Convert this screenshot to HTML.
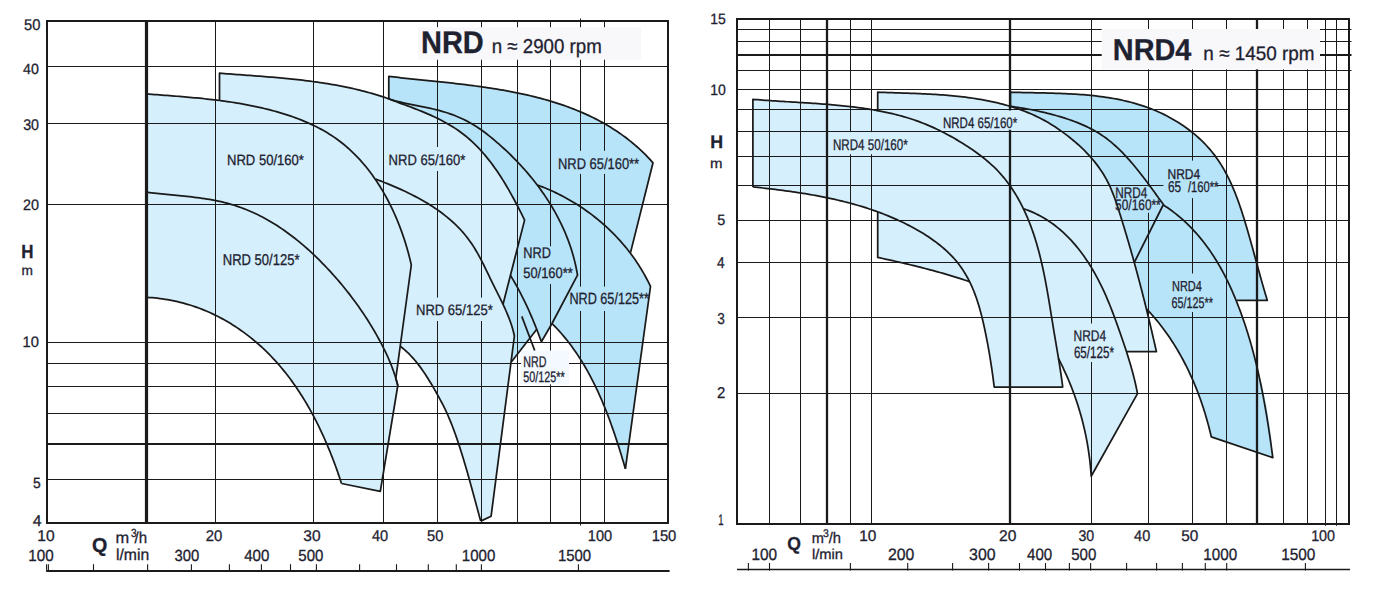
<!DOCTYPE html>
<html><head><meta charset="utf-8"><title>NRD pump curves</title>
<style>html,body{margin:0;padding:0;background:#fff;}svg{display:block;}text{font-family:"Liberation Sans",Arial,sans-serif;text-rendering:geometricPrecision;stroke:#1e2230;stroke-width:0.3px;}</style>
</head><body>
<svg width="1375" height="596" viewBox="0 0 1375 596">
<rect width="1375" height="596" fill="#fff"/>
<defs>
<clipPath id="cL"><path d="M147,94 C152.5,94.38 169.5,95.43 180,96.3 C190.5,97.17 205,98.72 210,99.2 L219.5,100.1 L219.5,73.2 L222.01,73.4 L224.53,73.59 L227.04,73.79 L229.56,73.98 L232.08,74.16 L234.59,74.35 L237.11,74.54 L239.63,74.72 L242.15,74.91 L244.67,75.09 L247.19,75.28 L249.71,75.47 L252.23,75.65 L254.75,75.84 L257.28,76.03 L259.8,76.23 L262.32,76.42 L264.84,76.62 L267.36,76.83 L269.88,77.03 L272.4,77.24 L274.92,77.46 L277.44,77.68 L279.96,77.91 L282.47,78.14 L284.99,78.37 L287.5,78.62 L290.02,78.87 L292.53,79.13 L295.04,79.39 L297.56,79.67 L300.07,79.95 L302.57,80.24 L305.08,80.54 L307.58,80.85 L310.09,81.17 L312.59,81.5 L315.09,81.84 L317.59,82.19 L320.08,82.55 L322.58,82.92 L325.07,83.31 L327.56,83.71 L330.04,84.12 L332.53,84.54 L335.01,84.98 L337.49,85.43 L339.96,85.9 L342.44,86.38 L344.91,86.87 L347.38,87.38 L349.84,87.91 L352.3,88.45 L354.76,89.01 L357.22,89.59 L359.67,90.19 L362.12,90.8 L364.56,91.43 L367,92.08 L369.44,92.74 L371.88,93.43 L374.31,94.13 L376.73,94.86 L379.15,95.61 L381.57,96.37 L383.99,97.16 L386.39,97.97 L388.8,98.8 L391.11,99.73 L393.44,100.64 L395.77,101.54 L398.12,102.43 L400.48,103.31 L402.84,104.18 L405.21,105.05 L407.58,105.92 L409.95,106.8 L412.33,107.69 L414.7,108.59 L417.07,109.5 L419.43,110.44 L421.79,111.39 L424.14,112.36 L426.49,113.35 L428.82,114.36 L431.14,115.4 L433.45,116.46 L435.75,117.54 L438.03,118.65 L440.29,119.79 L442.54,120.96 L444.76,122.16 L446.97,123.39 L449.15,124.65 L451.31,125.94 L453.44,127.27 L455.55,128.63 L457.63,130.03 L459.68,131.47 L461.69,132.95 L463.68,134.46 L465.64,136.02 L467.56,137.61 L469.45,139.24 L471.31,140.91 L473.14,142.61 L474.94,144.35 L476.72,146.12 L478.46,147.92 L480.18,149.75 L481.86,151.61 L483.53,153.5 L485.16,155.42 L486.77,157.36 L488.35,159.33 L489.91,161.32 L491.45,163.34 L492.96,165.37 L494.45,167.43 L495.92,169.51 L497.36,171.6 L498.78,173.72 L500.18,175.85 L501.56,177.99 L502.92,180.15 L504.26,182.32 L505.59,184.5 L506.89,186.69 L508.18,188.89 L509.44,191.11 L510.7,193.32 L511.93,195.55 L513.15,197.78 L514.36,200.01 L515.55,202.25 L516.72,204.48 L517.88,206.72 L519.03,208.96 L520.17,211.19 L521.29,213.43 L522.41,215.66 L523.51,217.88 L524.6,220.1 L503.1,304 C504.08,306.42 507.12,313.17 509,318.5 C510.88,323.83 513.5,333.08 514.4,336 L491.1,516.2 L480.7,521.1 L480.04,518.7 L479.38,516.29 L478.72,513.88 L478.07,511.47 L477.41,509.05 L476.76,506.64 L476.11,504.22 L475.45,501.8 L474.8,499.39 L474.15,496.97 L473.49,494.55 L472.83,492.12 L472.17,489.7 L471.51,487.28 L470.85,484.86 L470.18,482.44 L469.51,480.02 L468.83,477.61 L468.15,475.19 L467.46,472.78 L466.77,470.36 L466.07,467.95 L465.37,465.54 L464.66,463.14 L463.94,460.73 L463.22,458.33 L462.49,455.94 L461.74,453.54 L460.99,451.16 L460.24,448.77 L459.47,446.39 L458.69,444.01 L457.9,441.64 L457.1,439.27 L456.29,436.91 L455.46,434.56 L454.62,432.21 L453.76,429.87 L452.88,427.53 L451.99,425.21 L451.07,422.89 L450.13,420.58 L449.17,418.28 L448.19,416 L447.18,413.72 L446.14,411.45 L445.07,409.2 L443.98,406.95 L442.86,404.72 L441.71,402.5 L440.54,400.29 L439.35,398.08 L438.15,395.89 L436.92,393.7 L435.69,391.51 L434.44,389.33 L433.18,387.16 L431.9,384.99 L430.62,382.82 L429.31,380.67 L427.99,378.54 L426.65,376.42 L425.28,374.31 L423.89,372.23 L422.47,370.17 L421.02,368.13 L419.54,366.12 L418.02,364.14 L416.47,362.18 L414.88,360.27 L413.24,358.39 L411.57,356.54 L409.85,354.74 L408.08,352.98 L406.27,351.26 L404.4,349.59 L402.48,347.97 L400.5,346.4 L395.8,378.5 L397.8,385.5 L380.3,491.4 L341.5,483.5 L340.75,481.15 L339.99,478.81 L339.22,476.46 L338.43,474.11 L337.62,471.76 L336.8,469.41 L335.97,467.06 L335.12,464.71 L334.25,462.36 L333.37,460.01 L332.47,457.66 L331.56,455.31 L330.63,452.97 L329.68,450.63 L328.72,448.29 L327.75,445.96 L326.75,443.63 L325.74,441.31 L324.72,438.99 L323.68,436.67 L322.62,434.36 L321.54,432.06 L320.45,429.76 L319.35,427.47 L318.22,425.19 L317.08,422.91 L315.92,420.64 L314.75,418.39 L313.56,416.13 L312.35,413.89 L311.12,411.66 L309.88,409.44 L308.62,407.23 L307.34,405.03 L306.04,402.84 L304.73,400.66 L303.4,398.49 L302.05,396.34 L300.68,394.2 L299.3,392.07 L297.9,389.96 L296.48,387.86 L295.04,385.77 L293.59,383.7 L292.11,381.65 L290.62,379.61 L289.11,377.58 L287.58,375.57 L286.03,373.58 L284.46,371.61 L282.88,369.65 L281.28,367.71 L279.65,365.79 L278.01,363.89 L276.35,362.01 L274.67,360.15 L272.97,358.3 L271.25,356.48 L269.52,354.68 L267.76,352.9 L265.98,351.14 L264.19,349.41 L262.37,347.69 L260.54,346 L258.68,344.33 L256.81,342.69 L254.91,341.06 L253,339.47 L251.06,337.9 L249.11,336.35 L247.14,334.83 L245.15,333.33 L243.14,331.86 L241.11,330.41 L239.06,329 L237,327.6 L234.91,326.24 L232.81,324.9 L230.69,323.59 L228.56,322.31 L226.4,321.05 L224.23,319.83 L222.05,318.63 L219.84,317.46 L217.62,316.33 L215.39,315.22 L213.14,314.14 L210.87,313.09 L208.58,312.07 L206.28,311.08 L203.97,310.13 L201.64,309.2 L199.3,308.31 L196.94,307.45 L194.57,306.62 L192.18,305.82 L189.78,305.06 L187.36,304.33 L184.93,303.63 L182.49,302.97 L180.04,302.34 L177.57,301.74 L175.09,301.18 L172.59,300.66 L170.08,300.17 L167.57,299.72 L165.04,299.3 L162.49,298.92 L159.94,298.57 L157.37,298.26 L154.8,297.99 L152.21,297.76 L149.61,297.56 L147,297.4 Z"/></clipPath>
<clipPath id="cD"><path d="M388.8,76.4 L391.22,76.68 L393.64,76.95 L396.06,77.22 L398.5,77.49 L400.93,77.76 L403.38,78.02 L405.83,78.28 L408.28,78.54 L410.74,78.79 L413.2,79.05 L415.67,79.3 L418.14,79.56 L420.62,79.81 L423.1,80.06 L425.58,80.32 L428.07,80.57 L430.56,80.83 L433.05,81.09 L435.55,81.34 L438.05,81.61 L440.55,81.87 L443.05,82.14 L445.56,82.4 L448.06,82.68 L450.57,82.95 L453.08,83.23 L455.59,83.52 L458.1,83.81 L460.61,84.1 L463.12,84.4 L465.63,84.71 L468.15,85.02 L470.66,85.34 L473.17,85.66 L475.68,86 L478.19,86.34 L480.7,86.68 L483.2,87.04 L485.71,87.4 L488.21,87.77 L490.72,88.15 L493.22,88.54 L495.71,88.94 L498.21,89.36 L500.7,89.78 L503.19,90.21 L505.68,90.65 L508.16,91.1 L510.64,91.57 L513.11,92.05 L515.59,92.54 L518.05,93.04 L520.51,93.55 L522.97,94.08 L525.43,94.62 L527.87,95.18 L530.32,95.75 L532.75,96.34 L535.18,96.94 L537.61,97.55 L540.03,98.18 L542.44,98.83 L544.85,99.5 L547.25,100.18 L549.64,100.87 L552.03,101.59 L554.4,102.32 L556.77,103.07 L559.14,103.84 L561.49,104.63 L563.84,105.43 L566.17,106.26 L568.5,107.1 L570.82,107.97 L573.13,108.85 L575.43,109.76 L577.72,110.69 L580,111.63 L582.27,112.6 L584.52,113.6 L586.77,114.61 L589.01,115.65 L591.23,116.71 L593.44,117.79 L595.64,118.9 L597.83,120.03 L600,121.19 L602.17,122.37 L604.31,123.57 L606.45,124.8 L608.57,126.06 L610.68,127.34 L612.77,128.65 L614.85,129.98 L616.92,131.34 L618.97,132.73 L621,134.15 L623.02,135.6 L625.02,137.07 L627.01,138.57 L628.98,140.1 L630.93,141.66 L632.87,143.25 L634.79,144.87 L636.69,146.52 L638.58,148.21 L640.45,149.92 L642.3,151.66 L644.13,153.44 L645.94,155.24 L647.74,157.08 L649.51,158.96 L651.27,160.86 L653,162.8 L630.5,252.6 C633.83,258.25 647.17,280.85 650.5,286.5 L625.4,468.8 L624.69,466.4 L623.98,463.99 L623.27,461.58 L622.54,459.17 L621.81,456.76 L621.08,454.35 L620.33,451.93 L619.58,449.52 L618.82,447.11 L618.06,444.69 L617.28,442.28 L616.5,439.87 L615.7,437.46 L614.9,435.05 L614.08,432.64 L613.26,430.24 L612.42,427.84 L611.57,425.45 L610.71,423.05 L609.84,420.66 L608.96,418.28 L608.06,415.9 L607.15,413.53 L606.22,411.16 L605.29,408.8 L604.33,406.44 L603.37,404.09 L602.39,401.75 L601.39,399.41 L600.38,397.09 L599.35,394.77 L598.3,392.46 L597.24,390.16 L596.16,387.87 L595.06,385.59 L593.94,383.31 L592.81,381.05 L591.65,378.8 L590.48,376.56 L589.29,374.34 L588.07,372.12 L586.84,369.92 L585.59,367.73 L584.31,365.55 L583.02,363.38 L581.7,361.23 L580.36,359.1 L579,356.98 L577.61,354.87 L576.2,352.78 L574.77,350.7 L573.31,348.64 L571.83,346.6 L570.32,344.57 L568.79,342.57 L567.23,340.57 L565.65,338.6 L564.04,336.64 L562.4,334.71 L560.74,332.79 L559.05,330.89 L557.33,329.01 L555.58,327.15 L553.8,325.32 L552,323.5 L541.4,341.7 L536.6,329.5 L511.3,362 L514.4,336 C513.5,333.08 510.88,323.83 509,318.5 C507.12,313.17 504.08,306.42 503.1,304 L524.6,220.1 L523.51,217.88 L522.41,215.66 L521.29,213.43 L520.17,211.19 L519.03,208.96 L517.88,206.72 L516.72,204.48 L515.55,202.25 L514.36,200.01 L513.15,197.78 L511.93,195.55 L510.7,193.32 L509.44,191.11 L508.18,188.89 L506.89,186.69 L505.59,184.5 L504.26,182.32 L502.92,180.15 L501.56,177.99 L500.18,175.85 L498.78,173.72 L497.36,171.6 L495.92,169.51 L494.45,167.43 L492.96,165.37 L491.45,163.34 L489.91,161.32 L488.35,159.33 L486.77,157.36 L485.16,155.42 L483.53,153.5 L481.86,151.61 L480.18,149.75 L478.46,147.92 L476.72,146.12 L474.94,144.35 L473.14,142.61 L471.31,140.91 L469.45,139.24 L467.56,137.61 L465.64,136.02 L463.68,134.46 L461.69,132.95 L459.68,131.47 L457.63,130.03 L455.55,128.63 L453.44,127.27 L451.31,125.94 L449.15,124.65 L446.97,123.39 L444.76,122.16 L442.54,120.96 L440.29,119.79 L438.03,118.65 L435.75,117.54 L433.45,116.46 L431.14,115.4 L428.82,114.36 L426.49,113.35 L424.14,112.36 L421.79,111.39 L419.43,110.44 L417.07,109.5 L414.7,108.59 L412.33,107.69 L409.95,106.8 L407.58,105.92 L405.21,105.05 L402.84,104.18 L400.48,103.31 L398.12,102.43 L395.77,101.54 L393.44,100.64 L391.11,99.73 L388.8,98.8 Z"/></clipPath>
<clipPath id="cRL"><path d="M752.9,99.3 L755.43,99.5 L757.96,99.7 L760.49,99.88 L763.02,100.07 L765.55,100.24 L768.08,100.41 L770.61,100.58 L773.14,100.74 L775.67,100.9 L778.21,101.06 L780.74,101.21 L783.27,101.36 L785.81,101.52 L788.34,101.67 L790.87,101.82 L793.41,101.97 L795.94,102.12 L798.47,102.28 L801.01,102.44 L803.54,102.6 L806.07,102.76 L808.6,102.93 L811.14,103.1 L813.67,103.28 L816.2,103.46 L818.73,103.65 L821.26,103.85 L823.78,104.05 L826.31,104.26 L828.84,104.48 L831.36,104.71 L833.89,104.95 L836.41,105.2 L838.93,105.46 L841.46,105.74 L843.98,106.02 L846.49,106.32 L849.01,106.63 L851.53,106.95 L854.04,107.29 L856.56,107.64 L859.07,108.01 L861.58,108.39 L864.09,108.79 L866.59,109.21 L869.1,109.65 L871.6,110.1 L877.7,111.3 L877.7,92.2 L880.16,92.29 L882.62,92.37 L885.1,92.45 L887.57,92.53 L890.06,92.61 L892.54,92.69 L895.04,92.77 L897.53,92.85 L900.03,92.93 L902.54,93.01 L905.05,93.09 L907.56,93.17 L910.08,93.26 L912.59,93.35 L915.11,93.45 L917.64,93.55 L920.16,93.66 L922.69,93.77 L925.22,93.9 L927.74,94.02 L930.27,94.16 L932.8,94.3 L935.33,94.46 L937.86,94.62 L940.39,94.79 L942.92,94.98 L945.45,95.17 L947.97,95.38 L950.49,95.6 L953.02,95.84 L955.54,96.08 L958.05,96.35 L960.57,96.62 L963.08,96.92 L965.58,97.22 L968.09,97.55 L970.59,97.89 L973.08,98.25 L975.57,98.63 L978.06,99.03 L980.54,99.45 L983.01,99.88 L985.48,100.34 L987.94,100.82 L990.4,101.33 L992.85,101.85 L995.29,102.4 L997.72,102.97 L1000.15,103.56 L1002.57,104.19 L1004.98,104.83 L1007.38,105.5 L1009.77,106.2 L1012.16,106.93 L1014.53,107.68 L1016.89,108.47 L1019.25,109.28 L1021.59,110.12 L1023.92,110.99 L1026.24,111.9 L1028.54,112.84 L1030.84,113.81 L1033.11,114.81 L1035.38,115.85 L1037.63,116.93 L1039.86,118.04 L1042.08,119.18 L1044.28,120.37 L1046.46,121.59 L1048.63,122.86 L1050.78,124.15 L1052.91,125.49 L1055.03,126.85 L1057.13,128.25 L1059.22,129.68 L1061.3,131.13 L1063.36,132.62 L1065.4,134.13 L1067.42,135.67 L1069.43,137.23 L1071.41,138.83 L1073.38,140.45 L1075.32,142.09 L1077.23,143.77 L1079.12,145.47 L1080.99,147.19 L1082.82,148.95 L1084.62,150.72 L1086.39,152.53 L1088.13,154.36 L1089.83,156.21 L1091.49,158.09 L1093.12,160 L1094.71,161.93 L1096.26,163.89 L1097.76,165.88 L1099.23,167.89 L1100.64,169.93 L1102.02,171.99 L1103.34,174.09 L1104.62,176.21 L1105.85,178.36 L1107.03,180.54 L1108.15,182.75 L1109.23,184.98 L1110.27,187.24 L1111.27,189.51 L1112.23,191.81 L1113.15,194.13 L1114.05,196.47 L1114.91,198.82 L1115.75,201.18 L1116.57,203.56 L1117.37,205.94 L1118.15,208.33 L1118.93,210.73 L1119.69,213.14 L1120.44,215.54 L1121.19,217.95 L1121.93,220.35 L1122.68,222.76 L1123.41,225.17 L1124.14,227.58 L1124.87,230 L1125.59,232.41 L1126.31,234.82 L1127.03,237.24 L1127.74,239.65 L1128.45,242.07 L1129.15,244.49 L1129.85,246.91 L1130.54,249.33 L1131.23,251.75 L1131.92,254.17 L1132.6,256.59 L1133.28,259.01 L1133.96,261.44 L1134.63,263.86 L1135.29,266.29 L1135.96,268.71 L1136.62,271.14 L1137.27,273.57 L1137.92,276 L1138.57,278.43 L1139.22,280.86 L1139.86,283.29 L1140.49,285.72 L1141.13,288.15 L1141.76,290.58 L1142.38,293.02 L1143,295.45 L1143.62,297.89 L1144.24,300.32 L1144.85,302.76 L1145.46,305.2 L1146.06,307.63 L1146.67,310.07 L1147.26,312.51 L1147.86,314.95 L1148.45,317.39 L1149.04,319.83 L1149.62,322.27 L1150.21,324.71 L1150.78,327.15 L1151.36,329.6 L1151.93,332.04 L1152.5,334.48 L1153.07,336.93 L1153.63,339.37 L1154.19,341.82 L1154.75,344.26 L1155.3,346.71 L1155.85,349.15 L1156.4,351.6 L1126.8,351.6 L1137.5,393.6 L1091.2,476.3 L1091.04,473.79 L1090.85,471.28 L1090.65,468.78 L1090.42,466.27 L1090.17,463.77 L1089.9,461.27 L1089.6,458.77 L1089.29,456.28 L1088.95,453.79 L1088.59,451.3 L1088.21,448.82 L1087.81,446.33 L1087.38,443.86 L1086.94,441.38 L1086.47,438.91 L1085.98,436.45 L1085.48,433.98 L1084.95,431.53 L1084.39,429.07 L1083.82,426.63 L1083.23,424.18 L1082.62,421.75 L1081.98,419.31 L1081.32,416.89 L1080.65,414.47 L1079.95,412.05 L1079.23,409.64 L1078.5,407.24 L1077.74,404.84 L1076.96,402.45 L1076.16,400.07 L1075.34,397.69 L1074.5,395.32 L1073.65,392.96 L1072.77,390.6 L1071.87,388.25 L1070.95,385.91 L1070.01,383.58 L1069.05,381.26 L1068.07,378.94 L1067.08,376.64 L1066.06,374.34 L1065.02,372.05 L1063.97,369.77 L1062.89,367.49 L1061.8,365.23 L1060.68,362.98 L1059.55,360.73 L1058.4,358.5 L1062.7,387 L994.2,387 L993.93,384.5 L993.66,381.99 L993.37,379.49 L993.07,376.98 L992.76,374.48 L992.44,371.98 L992.1,369.47 L991.75,366.97 L991.39,364.47 L991.02,361.96 L990.63,359.46 L990.23,356.96 L989.81,354.47 L989.38,351.97 L988.94,349.48 L988.48,346.99 L988.01,344.5 L987.51,342.02 L987.01,339.54 L986.49,337.06 L985.95,334.59 L985.39,332.12 L984.82,329.65 L984.23,327.19 L983.62,324.73 L982.99,322.28 L982.35,319.84 L981.69,317.39 L981,314.96 L980.3,312.53 L979.58,310.11 L978.84,307.69 L978.08,305.28 L977.3,302.88 L976.5,300.48 L975.67,298.09 L974.83,295.71 L973.96,293.34 L973.08,290.97 L972.17,288.62 L971.23,286.27 L970.28,283.93 L969.3,281.6 L969.3,281.6 L966.87,280.78 L964.44,279.96 L962.01,279.16 L959.57,278.38 L957.13,277.6 L954.68,276.84 L952.23,276.08 L949.78,275.34 L947.32,274.61 L944.87,273.89 L942.4,273.18 L939.94,272.48 L937.47,271.79 L935,271.11 L932.53,270.44 L930.06,269.78 L927.58,269.12 L925.1,268.48 L922.62,267.84 L920.13,267.21 L917.65,266.59 L915.16,265.97 L912.67,265.36 L910.18,264.76 L907.69,264.16 L905.2,263.57 L902.7,262.99 L900.21,262.41 L897.71,261.84 L895.21,261.27 L892.71,260.7 L890.21,260.14 L887.71,259.59 L885.21,259.04 L882.71,258.49 L880.2,257.94 L877.7,257.4 L877.7,211.8 L875.19,210.74 L872.77,209.91 L870.35,209.09 L867.92,208.3 L865.49,207.53 L863.06,206.77 L860.61,206.04 L858.17,205.32 L855.72,204.62 L853.26,203.94 L850.8,203.28 L848.34,202.63 L845.87,202 L843.4,201.39 L840.93,200.8 L838.45,200.22 L835.97,199.65 L833.48,199.1 L831,198.56 L828.5,198.04 L826.01,197.53 L823.51,197.04 L821.01,196.55 L818.51,196.08 L816,195.63 L813.5,195.18 L810.99,194.74 L808.47,194.32 L805.96,193.9 L803.44,193.5 L800.93,193.1 L798.41,192.72 L795.88,192.34 L793.36,191.97 L790.84,191.61 L788.31,191.26 L785.79,190.92 L783.26,190.58 L780.73,190.25 L778.2,189.92 L775.67,189.6 L773.14,189.28 L770.61,188.97 L768.08,188.67 L765.55,188.36 L763.02,188.07 L760.49,187.77 L757.96,187.48 L755.43,187.19 L752.9,186.9 Z"/></clipPath>
<clipPath id="cRD"><path d="M1010.4,92.2 L1012.83,92.28 L1015.27,92.35 L1017.72,92.41 L1020.18,92.47 L1022.65,92.53 L1025.12,92.58 L1027.6,92.63 L1030.09,92.68 L1032.58,92.73 L1035.08,92.78 L1037.59,92.83 L1040.1,92.88 L1042.61,92.94 L1045.13,92.99 L1047.66,93.05 L1050.19,93.12 L1052.72,93.19 L1055.25,93.27 L1057.79,93.35 L1060.33,93.44 L1062.87,93.54 L1065.41,93.65 L1067.96,93.77 L1070.5,93.9 L1073.05,94.05 L1075.59,94.2 L1078.13,94.37 L1080.68,94.55 L1083.22,94.74 L1085.76,94.95 L1088.3,95.18 L1090.83,95.43 L1093.36,95.69 L1095.89,95.97 L1098.42,96.27 L1100.94,96.59 L1103.46,96.93 L1105.97,97.29 L1108.48,97.68 L1110.98,98.08 L1113.48,98.51 L1115.97,98.97 L1118.45,99.45 L1120.92,99.96 L1123.39,100.49 L1125.85,101.06 L1128.31,101.65 L1130.75,102.27 L1133.19,102.92 L1135.61,103.6 L1138.03,104.31 L1140.43,105.05 L1142.83,105.83 L1145.21,106.64 L1147.59,107.49 L1149.95,108.37 L1152.3,109.29 L1154.63,110.24 L1156.95,111.23 L1159.26,112.25 L1161.55,113.31 L1163.83,114.41 L1166.09,115.54 L1168.32,116.7 L1170.54,117.9 L1172.74,119.14 L1174.92,120.4 L1177.08,121.71 L1179.21,123.04 L1181.32,124.41 L1183.4,125.82 L1185.46,127.26 L1187.5,128.73 L1189.5,130.23 L1191.48,131.77 L1193.42,133.34 L1195.34,134.94 L1197.23,136.57 L1199.08,138.24 L1200.9,139.94 L1202.69,141.67 L1204.44,143.43 L1206.16,145.23 L1207.83,147.05 L1209.48,148.91 L1211.08,150.8 L1212.65,152.71 L1214.17,154.66 L1215.65,156.64 L1217.1,158.65 L1218.5,160.69 L1219.86,162.76 L1221.19,164.85 L1222.48,166.97 L1223.74,169.11 L1224.96,171.28 L1226.15,173.47 L1227.3,175.68 L1228.43,177.92 L1229.52,180.17 L1230.59,182.44 L1231.63,184.73 L1232.64,187.04 L1233.63,189.36 L1234.59,191.7 L1235.53,194.05 L1236.44,196.41 L1237.33,198.79 L1238.21,201.17 L1239.06,203.57 L1239.9,205.98 L1240.72,208.39 L1241.52,210.81 L1242.31,213.24 L1243.09,215.67 L1243.85,218.1 L1244.6,220.54 L1245.34,222.98 L1246.07,225.42 L1246.79,227.86 L1247.51,230.3 L1248.22,232.74 L1248.92,235.18 L1249.61,237.62 L1250.3,240.06 L1250.98,242.49 L1251.66,244.93 L1252.34,247.36 L1253.01,249.8 L1253.68,252.23 L1254.35,254.66 L1255.01,257.08 L1255.68,259.51 L1256.34,261.93 L1257,264.35 L1257.67,266.77 L1258.33,269.19 L1259,271.6 L1259.67,274.01 L1260.34,276.42 L1261.01,278.82 L1261.69,281.22 L1262.37,283.62 L1263.05,286.01 L1263.75,288.41 L1264.44,290.79 L1265.15,293.18 L1265.86,295.55 L1266.57,297.93 L1267.3,300.3 L1237,300.3 L1236.46,302.39 L1237.31,304.78 L1238.16,307.17 L1239.01,309.56 L1239.85,311.95 L1240.69,314.35 L1241.52,316.75 L1242.34,319.15 L1243.17,321.55 L1243.98,323.96 L1244.79,326.37 L1245.59,328.78 L1246.39,331.19 L1247.18,333.6 L1247.97,336.02 L1248.74,338.43 L1249.51,340.85 L1250.27,343.28 L1251.03,345.7 L1251.77,348.13 L1252.51,350.56 L1253.24,352.99 L1253.96,355.43 L1254.67,357.86 L1255.37,360.3 L1256.06,362.74 L1256.74,365.19 L1257.42,367.64 L1258.08,370.09 L1258.73,372.54 L1259.37,374.99 L1260,377.45 L1260.61,379.91 L1261.22,382.38 L1261.81,384.84 L1262.4,387.31 L1262.97,389.78 L1263.52,392.26 L1264.07,394.74 L1264.6,397.22 L1265.12,399.7 L1265.62,402.19 L1266.11,404.68 L1266.59,407.17 L1267.05,409.66 L1267.5,412.16 L1267.93,414.66 L1268.35,417.17 L1268.76,419.68 L1269.14,422.19 L1269.51,424.7 L1269.87,427.22 L1270.21,429.74 L1270.53,432.27 L1270.84,434.79 L1271.13,437.33 L1271.4,439.86 L1271.65,442.4 L1271.89,444.94 L1272.11,447.48 L1272.31,450.03 L1272.49,452.59 L1272.66,455.14 L1272.8,457.7 L1211.3,436.9 L1210.74,434.49 L1210.16,432.08 L1209.56,429.67 L1208.95,427.26 L1208.31,424.85 L1207.66,422.45 L1206.99,420.05 L1206.3,417.65 L1205.59,415.25 L1204.87,412.85 L1204.12,410.46 L1203.36,408.08 L1202.58,405.69 L1201.78,403.32 L1200.96,400.94 L1200.12,398.58 L1199.26,396.22 L1198.38,393.86 L1197.48,391.51 L1196.57,389.17 L1195.63,386.84 L1194.67,384.51 L1193.7,382.19 L1192.7,379.88 L1191.69,377.58 L1190.65,375.29 L1189.6,373.01 L1188.53,370.73 L1187.43,368.47 L1186.32,366.22 L1185.18,363.98 L1184.03,361.75 L1182.85,359.53 L1181.65,357.33 L1180.44,355.13 L1179.2,352.95 L1177.94,350.79 L1176.66,348.63 L1175.36,346.5 L1174.04,344.37 L1172.7,342.26 L1171.34,340.17 L1169.95,338.09 L1168.55,336.02 L1167.12,333.97 L1165.67,331.94 L1164.2,329.93 L1162.71,327.93 L1161.2,325.95 L1159.67,323.99 L1158.11,322.05 L1156.53,320.13 L1154.93,318.22 L1153.31,316.34 L1151.67,314.47 L1150,312.63 L1148.31,310.8 L1146.6,309 L1145.81,305.94 L1145.03,303.57 L1144.27,301.19 L1143.53,298.81 L1142.79,296.42 L1142.08,294.02 L1141.37,291.62 L1140.68,289.21 L1140,286.8 L1139.32,284.38 L1138.66,281.96 L1138.01,279.53 L1137.36,277.1 L1136.72,274.67 L1136.08,272.23 L1135.45,269.79 L1134.83,267.34 L1134.21,264.9 L1133.59,262.45 L1132.97,260 L1132.35,257.55 L1131.73,255.1 L1131.12,252.65 L1130.5,250.2 L1129.87,247.75 L1129.25,245.3 L1128.62,242.85 L1127.98,240.4 L1127.34,237.95 L1126.69,235.51 L1126.04,233.07 L1125.37,230.63 L1124.7,228.19 L1124.02,225.76 L1123.32,223.33 L1122.62,220.9 L1121.9,218.48 L1121.16,216.06 L1120.42,213.65 L1119.65,211.24 L1118.87,208.84 L1118.07,206.45 L1117.25,204.08 L1116.4,201.71 L1115.53,199.35 L1114.63,197.01 L1113.7,194.69 L1112.73,192.38 L1111.74,190.1 L1110.7,187.83 L1109.63,185.59 L1108.51,183.36 L1107.35,181.17 L1106.15,179 L1104.9,176.86 L1103.6,174.74 L1102.26,172.65 L1100.88,170.59 L1099.46,168.56 L1097.99,166.55 L1096.48,164.57 L1094.94,162.61 L1093.36,160.68 L1091.74,158.78 L1090.09,156.9 L1088.41,155.04 L1086.69,153.21 L1084.95,151.41 L1083.17,149.62 L1081.37,147.87 L1079.54,146.13 L1077.68,144.42 L1075.8,142.73 L1073.9,141.07 L1071.97,139.43 L1070.02,137.81 L1068.05,136.22 L1066.05,134.66 L1064.04,133.12 L1062.01,131.61 L1059.95,130.13 L1057.88,128.68 L1055.78,127.25 L1053.67,125.86 L1051.53,124.5 L1049.38,123.18 L1047.21,121.89 L1045.03,120.63 L1042.82,119.4 L1040.6,118.22 L1038.37,117.06 L1036.11,115.95 L1033.85,114.88 L1031.56,113.84 L1029.26,112.84 L1026.95,111.89 L1024.63,110.97 L1022.29,110.1 L1019.93,109.27 L1017.57,108.48 L1015.19,107.74 L1012.8,107.05 L1010.4,106.4 Z"/></clipPath>
</defs>
<path d="M147,94 C152.5,94.38 169.5,95.43 180,96.3 C190.5,97.17 205,98.72 210,99.2 L219.5,100.1 L219.5,73.2 L222.01,73.4 L224.53,73.59 L227.04,73.79 L229.56,73.98 L232.08,74.16 L234.59,74.35 L237.11,74.54 L239.63,74.72 L242.15,74.91 L244.67,75.09 L247.19,75.28 L249.71,75.47 L252.23,75.65 L254.75,75.84 L257.28,76.03 L259.8,76.23 L262.32,76.42 L264.84,76.62 L267.36,76.83 L269.88,77.03 L272.4,77.24 L274.92,77.46 L277.44,77.68 L279.96,77.91 L282.47,78.14 L284.99,78.37 L287.5,78.62 L290.02,78.87 L292.53,79.13 L295.04,79.39 L297.56,79.67 L300.07,79.95 L302.57,80.24 L305.08,80.54 L307.58,80.85 L310.09,81.17 L312.59,81.5 L315.09,81.84 L317.59,82.19 L320.08,82.55 L322.58,82.92 L325.07,83.31 L327.56,83.71 L330.04,84.12 L332.53,84.54 L335.01,84.98 L337.49,85.43 L339.96,85.9 L342.44,86.38 L344.91,86.87 L347.38,87.38 L349.84,87.91 L352.3,88.45 L354.76,89.01 L357.22,89.59 L359.67,90.19 L362.12,90.8 L364.56,91.43 L367,92.08 L369.44,92.74 L371.88,93.43 L374.31,94.13 L376.73,94.86 L379.15,95.61 L381.57,96.37 L383.99,97.16 L386.39,97.97 L388.8,98.8 L391.11,99.73 L393.44,100.64 L395.77,101.54 L398.12,102.43 L400.48,103.31 L402.84,104.18 L405.21,105.05 L407.58,105.92 L409.95,106.8 L412.33,107.69 L414.7,108.59 L417.07,109.5 L419.43,110.44 L421.79,111.39 L424.14,112.36 L426.49,113.35 L428.82,114.36 L431.14,115.4 L433.45,116.46 L435.75,117.54 L438.03,118.65 L440.29,119.79 L442.54,120.96 L444.76,122.16 L446.97,123.39 L449.15,124.65 L451.31,125.94 L453.44,127.27 L455.55,128.63 L457.63,130.03 L459.68,131.47 L461.69,132.95 L463.68,134.46 L465.64,136.02 L467.56,137.61 L469.45,139.24 L471.31,140.91 L473.14,142.61 L474.94,144.35 L476.72,146.12 L478.46,147.92 L480.18,149.75 L481.86,151.61 L483.53,153.5 L485.16,155.42 L486.77,157.36 L488.35,159.33 L489.91,161.32 L491.45,163.34 L492.96,165.37 L494.45,167.43 L495.92,169.51 L497.36,171.6 L498.78,173.72 L500.18,175.85 L501.56,177.99 L502.92,180.15 L504.26,182.32 L505.59,184.5 L506.89,186.69 L508.18,188.89 L509.44,191.11 L510.7,193.32 L511.93,195.55 L513.15,197.78 L514.36,200.01 L515.55,202.25 L516.72,204.48 L517.88,206.72 L519.03,208.96 L520.17,211.19 L521.29,213.43 L522.41,215.66 L523.51,217.88 L524.6,220.1 L503.1,304 C504.08,306.42 507.12,313.17 509,318.5 C510.88,323.83 513.5,333.08 514.4,336 L491.1,516.2 L480.7,521.1 L480.04,518.7 L479.38,516.29 L478.72,513.88 L478.07,511.47 L477.41,509.05 L476.76,506.64 L476.11,504.22 L475.45,501.8 L474.8,499.39 L474.15,496.97 L473.49,494.55 L472.83,492.12 L472.17,489.7 L471.51,487.28 L470.85,484.86 L470.18,482.44 L469.51,480.02 L468.83,477.61 L468.15,475.19 L467.46,472.78 L466.77,470.36 L466.07,467.95 L465.37,465.54 L464.66,463.14 L463.94,460.73 L463.22,458.33 L462.49,455.94 L461.74,453.54 L460.99,451.16 L460.24,448.77 L459.47,446.39 L458.69,444.01 L457.9,441.64 L457.1,439.27 L456.29,436.91 L455.46,434.56 L454.62,432.21 L453.76,429.87 L452.88,427.53 L451.99,425.21 L451.07,422.89 L450.13,420.58 L449.17,418.28 L448.19,416 L447.18,413.72 L446.14,411.45 L445.07,409.2 L443.98,406.95 L442.86,404.72 L441.71,402.5 L440.54,400.29 L439.35,398.08 L438.15,395.89 L436.92,393.7 L435.69,391.51 L434.44,389.33 L433.18,387.16 L431.9,384.99 L430.62,382.82 L429.31,380.67 L427.99,378.54 L426.65,376.42 L425.28,374.31 L423.89,372.23 L422.47,370.17 L421.02,368.13 L419.54,366.12 L418.02,364.14 L416.47,362.18 L414.88,360.27 L413.24,358.39 L411.57,356.54 L409.85,354.74 L408.08,352.98 L406.27,351.26 L404.4,349.59 L402.48,347.97 L400.5,346.4 L395.8,378.5 L397.8,385.5 L380.3,491.4 L341.5,483.5 L340.75,481.15 L339.99,478.81 L339.22,476.46 L338.43,474.11 L337.62,471.76 L336.8,469.41 L335.97,467.06 L335.12,464.71 L334.25,462.36 L333.37,460.01 L332.47,457.66 L331.56,455.31 L330.63,452.97 L329.68,450.63 L328.72,448.29 L327.75,445.96 L326.75,443.63 L325.74,441.31 L324.72,438.99 L323.68,436.67 L322.62,434.36 L321.54,432.06 L320.45,429.76 L319.35,427.47 L318.22,425.19 L317.08,422.91 L315.92,420.64 L314.75,418.39 L313.56,416.13 L312.35,413.89 L311.12,411.66 L309.88,409.44 L308.62,407.23 L307.34,405.03 L306.04,402.84 L304.73,400.66 L303.4,398.49 L302.05,396.34 L300.68,394.2 L299.3,392.07 L297.9,389.96 L296.48,387.86 L295.04,385.77 L293.59,383.7 L292.11,381.65 L290.62,379.61 L289.11,377.58 L287.58,375.57 L286.03,373.58 L284.46,371.61 L282.88,369.65 L281.28,367.71 L279.65,365.79 L278.01,363.89 L276.35,362.01 L274.67,360.15 L272.97,358.3 L271.25,356.48 L269.52,354.68 L267.76,352.9 L265.98,351.14 L264.19,349.41 L262.37,347.69 L260.54,346 L258.68,344.33 L256.81,342.69 L254.91,341.06 L253,339.47 L251.06,337.9 L249.11,336.35 L247.14,334.83 L245.15,333.33 L243.14,331.86 L241.11,330.41 L239.06,329 L237,327.6 L234.91,326.24 L232.81,324.9 L230.69,323.59 L228.56,322.31 L226.4,321.05 L224.23,319.83 L222.05,318.63 L219.84,317.46 L217.62,316.33 L215.39,315.22 L213.14,314.14 L210.87,313.09 L208.58,312.07 L206.28,311.08 L203.97,310.13 L201.64,309.2 L199.3,308.31 L196.94,307.45 L194.57,306.62 L192.18,305.82 L189.78,305.06 L187.36,304.33 L184.93,303.63 L182.49,302.97 L180.04,302.34 L177.57,301.74 L175.09,301.18 L172.59,300.66 L170.08,300.17 L167.57,299.72 L165.04,299.3 L162.49,298.92 L159.94,298.57 L157.37,298.26 L154.8,297.99 L152.21,297.76 L149.61,297.56 L147,297.4 Z" fill="#d5effd"/>
<path d="M388.8,76.4 L391.22,76.68 L393.64,76.95 L396.06,77.22 L398.5,77.49 L400.93,77.76 L403.38,78.02 L405.83,78.28 L408.28,78.54 L410.74,78.79 L413.2,79.05 L415.67,79.3 L418.14,79.56 L420.62,79.81 L423.1,80.06 L425.58,80.32 L428.07,80.57 L430.56,80.83 L433.05,81.09 L435.55,81.34 L438.05,81.61 L440.55,81.87 L443.05,82.14 L445.56,82.4 L448.06,82.68 L450.57,82.95 L453.08,83.23 L455.59,83.52 L458.1,83.81 L460.61,84.1 L463.12,84.4 L465.63,84.71 L468.15,85.02 L470.66,85.34 L473.17,85.66 L475.68,86 L478.19,86.34 L480.7,86.68 L483.2,87.04 L485.71,87.4 L488.21,87.77 L490.72,88.15 L493.22,88.54 L495.71,88.94 L498.21,89.36 L500.7,89.78 L503.19,90.21 L505.68,90.65 L508.16,91.1 L510.64,91.57 L513.11,92.05 L515.59,92.54 L518.05,93.04 L520.51,93.55 L522.97,94.08 L525.43,94.62 L527.87,95.18 L530.32,95.75 L532.75,96.34 L535.18,96.94 L537.61,97.55 L540.03,98.18 L542.44,98.83 L544.85,99.5 L547.25,100.18 L549.64,100.87 L552.03,101.59 L554.4,102.32 L556.77,103.07 L559.14,103.84 L561.49,104.63 L563.84,105.43 L566.17,106.26 L568.5,107.1 L570.82,107.97 L573.13,108.85 L575.43,109.76 L577.72,110.69 L580,111.63 L582.27,112.6 L584.52,113.6 L586.77,114.61 L589.01,115.65 L591.23,116.71 L593.44,117.79 L595.64,118.9 L597.83,120.03 L600,121.19 L602.17,122.37 L604.31,123.57 L606.45,124.8 L608.57,126.06 L610.68,127.34 L612.77,128.65 L614.85,129.98 L616.92,131.34 L618.97,132.73 L621,134.15 L623.02,135.6 L625.02,137.07 L627.01,138.57 L628.98,140.1 L630.93,141.66 L632.87,143.25 L634.79,144.87 L636.69,146.52 L638.58,148.21 L640.45,149.92 L642.3,151.66 L644.13,153.44 L645.94,155.24 L647.74,157.08 L649.51,158.96 L651.27,160.86 L653,162.8 L630.5,252.6 C633.83,258.25 647.17,280.85 650.5,286.5 L625.4,468.8 L624.69,466.4 L623.98,463.99 L623.27,461.58 L622.54,459.17 L621.81,456.76 L621.08,454.35 L620.33,451.93 L619.58,449.52 L618.82,447.11 L618.06,444.69 L617.28,442.28 L616.5,439.87 L615.7,437.46 L614.9,435.05 L614.08,432.64 L613.26,430.24 L612.42,427.84 L611.57,425.45 L610.71,423.05 L609.84,420.66 L608.96,418.28 L608.06,415.9 L607.15,413.53 L606.22,411.16 L605.29,408.8 L604.33,406.44 L603.37,404.09 L602.39,401.75 L601.39,399.41 L600.38,397.09 L599.35,394.77 L598.3,392.46 L597.24,390.16 L596.16,387.87 L595.06,385.59 L593.94,383.31 L592.81,381.05 L591.65,378.8 L590.48,376.56 L589.29,374.34 L588.07,372.12 L586.84,369.92 L585.59,367.73 L584.31,365.55 L583.02,363.38 L581.7,361.23 L580.36,359.1 L579,356.98 L577.61,354.87 L576.2,352.78 L574.77,350.7 L573.31,348.64 L571.83,346.6 L570.32,344.57 L568.79,342.57 L567.23,340.57 L565.65,338.6 L564.04,336.64 L562.4,334.71 L560.74,332.79 L559.05,330.89 L557.33,329.01 L555.58,327.15 L553.8,325.32 L552,323.5 L541.4,341.7 L536.6,329.5 L511.3,362 L514.4,336 C513.5,333.08 510.88,323.83 509,318.5 C507.12,313.17 504.08,306.42 503.1,304 L524.6,220.1 L523.51,217.88 L522.41,215.66 L521.29,213.43 L520.17,211.19 L519.03,208.96 L517.88,206.72 L516.72,204.48 L515.55,202.25 L514.36,200.01 L513.15,197.78 L511.93,195.55 L510.7,193.32 L509.44,191.11 L508.18,188.89 L506.89,186.69 L505.59,184.5 L504.26,182.32 L502.92,180.15 L501.56,177.99 L500.18,175.85 L498.78,173.72 L497.36,171.6 L495.92,169.51 L494.45,167.43 L492.96,165.37 L491.45,163.34 L489.91,161.32 L488.35,159.33 L486.77,157.36 L485.16,155.42 L483.53,153.5 L481.86,151.61 L480.18,149.75 L478.46,147.92 L476.72,146.12 L474.94,144.35 L473.14,142.61 L471.31,140.91 L469.45,139.24 L467.56,137.61 L465.64,136.02 L463.68,134.46 L461.69,132.95 L459.68,131.47 L457.63,130.03 L455.55,128.63 L453.44,127.27 L451.31,125.94 L449.15,124.65 L446.97,123.39 L444.76,122.16 L442.54,120.96 L440.29,119.79 L438.03,118.65 L435.75,117.54 L433.45,116.46 L431.14,115.4 L428.82,114.36 L426.49,113.35 L424.14,112.36 L421.79,111.39 L419.43,110.44 L417.07,109.5 L414.7,108.59 L412.33,107.69 L409.95,106.8 L407.58,105.92 L405.21,105.05 L402.84,104.18 L400.48,103.31 L398.12,102.43 L395.77,101.54 L393.44,100.64 L391.11,99.73 L388.8,98.8 Z" fill="#b8e4f9"/>
<path d="M752.9,99.3 L755.43,99.5 L757.96,99.7 L760.49,99.88 L763.02,100.07 L765.55,100.24 L768.08,100.41 L770.61,100.58 L773.14,100.74 L775.67,100.9 L778.21,101.06 L780.74,101.21 L783.27,101.36 L785.81,101.52 L788.34,101.67 L790.87,101.82 L793.41,101.97 L795.94,102.12 L798.47,102.28 L801.01,102.44 L803.54,102.6 L806.07,102.76 L808.6,102.93 L811.14,103.1 L813.67,103.28 L816.2,103.46 L818.73,103.65 L821.26,103.85 L823.78,104.05 L826.31,104.26 L828.84,104.48 L831.36,104.71 L833.89,104.95 L836.41,105.2 L838.93,105.46 L841.46,105.74 L843.98,106.02 L846.49,106.32 L849.01,106.63 L851.53,106.95 L854.04,107.29 L856.56,107.64 L859.07,108.01 L861.58,108.39 L864.09,108.79 L866.59,109.21 L869.1,109.65 L871.6,110.1 L877.7,111.3 L877.7,92.2 L880.16,92.29 L882.62,92.37 L885.1,92.45 L887.57,92.53 L890.06,92.61 L892.54,92.69 L895.04,92.77 L897.53,92.85 L900.03,92.93 L902.54,93.01 L905.05,93.09 L907.56,93.17 L910.08,93.26 L912.59,93.35 L915.11,93.45 L917.64,93.55 L920.16,93.66 L922.69,93.77 L925.22,93.9 L927.74,94.02 L930.27,94.16 L932.8,94.3 L935.33,94.46 L937.86,94.62 L940.39,94.79 L942.92,94.98 L945.45,95.17 L947.97,95.38 L950.49,95.6 L953.02,95.84 L955.54,96.08 L958.05,96.35 L960.57,96.62 L963.08,96.92 L965.58,97.22 L968.09,97.55 L970.59,97.89 L973.08,98.25 L975.57,98.63 L978.06,99.03 L980.54,99.45 L983.01,99.88 L985.48,100.34 L987.94,100.82 L990.4,101.33 L992.85,101.85 L995.29,102.4 L997.72,102.97 L1000.15,103.56 L1002.57,104.19 L1004.98,104.83 L1007.38,105.5 L1009.77,106.2 L1012.16,106.93 L1014.53,107.68 L1016.89,108.47 L1019.25,109.28 L1021.59,110.12 L1023.92,110.99 L1026.24,111.9 L1028.54,112.84 L1030.84,113.81 L1033.11,114.81 L1035.38,115.85 L1037.63,116.93 L1039.86,118.04 L1042.08,119.18 L1044.28,120.37 L1046.46,121.59 L1048.63,122.86 L1050.78,124.15 L1052.91,125.49 L1055.03,126.85 L1057.13,128.25 L1059.22,129.68 L1061.3,131.13 L1063.36,132.62 L1065.4,134.13 L1067.42,135.67 L1069.43,137.23 L1071.41,138.83 L1073.38,140.45 L1075.32,142.09 L1077.23,143.77 L1079.12,145.47 L1080.99,147.19 L1082.82,148.95 L1084.62,150.72 L1086.39,152.53 L1088.13,154.36 L1089.83,156.21 L1091.49,158.09 L1093.12,160 L1094.71,161.93 L1096.26,163.89 L1097.76,165.88 L1099.23,167.89 L1100.64,169.93 L1102.02,171.99 L1103.34,174.09 L1104.62,176.21 L1105.85,178.36 L1107.03,180.54 L1108.15,182.75 L1109.23,184.98 L1110.27,187.24 L1111.27,189.51 L1112.23,191.81 L1113.15,194.13 L1114.05,196.47 L1114.91,198.82 L1115.75,201.18 L1116.57,203.56 L1117.37,205.94 L1118.15,208.33 L1118.93,210.73 L1119.69,213.14 L1120.44,215.54 L1121.19,217.95 L1121.93,220.35 L1122.68,222.76 L1123.41,225.17 L1124.14,227.58 L1124.87,230 L1125.59,232.41 L1126.31,234.82 L1127.03,237.24 L1127.74,239.65 L1128.45,242.07 L1129.15,244.49 L1129.85,246.91 L1130.54,249.33 L1131.23,251.75 L1131.92,254.17 L1132.6,256.59 L1133.28,259.01 L1133.96,261.44 L1134.63,263.86 L1135.29,266.29 L1135.96,268.71 L1136.62,271.14 L1137.27,273.57 L1137.92,276 L1138.57,278.43 L1139.22,280.86 L1139.86,283.29 L1140.49,285.72 L1141.13,288.15 L1141.76,290.58 L1142.38,293.02 L1143,295.45 L1143.62,297.89 L1144.24,300.32 L1144.85,302.76 L1145.46,305.2 L1146.06,307.63 L1146.67,310.07 L1147.26,312.51 L1147.86,314.95 L1148.45,317.39 L1149.04,319.83 L1149.62,322.27 L1150.21,324.71 L1150.78,327.15 L1151.36,329.6 L1151.93,332.04 L1152.5,334.48 L1153.07,336.93 L1153.63,339.37 L1154.19,341.82 L1154.75,344.26 L1155.3,346.71 L1155.85,349.15 L1156.4,351.6 L1126.8,351.6 L1137.5,393.6 L1091.2,476.3 L1091.04,473.79 L1090.85,471.28 L1090.65,468.78 L1090.42,466.27 L1090.17,463.77 L1089.9,461.27 L1089.6,458.77 L1089.29,456.28 L1088.95,453.79 L1088.59,451.3 L1088.21,448.82 L1087.81,446.33 L1087.38,443.86 L1086.94,441.38 L1086.47,438.91 L1085.98,436.45 L1085.48,433.98 L1084.95,431.53 L1084.39,429.07 L1083.82,426.63 L1083.23,424.18 L1082.62,421.75 L1081.98,419.31 L1081.32,416.89 L1080.65,414.47 L1079.95,412.05 L1079.23,409.64 L1078.5,407.24 L1077.74,404.84 L1076.96,402.45 L1076.16,400.07 L1075.34,397.69 L1074.5,395.32 L1073.65,392.96 L1072.77,390.6 L1071.87,388.25 L1070.95,385.91 L1070.01,383.58 L1069.05,381.26 L1068.07,378.94 L1067.08,376.64 L1066.06,374.34 L1065.02,372.05 L1063.97,369.77 L1062.89,367.49 L1061.8,365.23 L1060.68,362.98 L1059.55,360.73 L1058.4,358.5 L1062.7,387 L994.2,387 L993.93,384.5 L993.66,381.99 L993.37,379.49 L993.07,376.98 L992.76,374.48 L992.44,371.98 L992.1,369.47 L991.75,366.97 L991.39,364.47 L991.02,361.96 L990.63,359.46 L990.23,356.96 L989.81,354.47 L989.38,351.97 L988.94,349.48 L988.48,346.99 L988.01,344.5 L987.51,342.02 L987.01,339.54 L986.49,337.06 L985.95,334.59 L985.39,332.12 L984.82,329.65 L984.23,327.19 L983.62,324.73 L982.99,322.28 L982.35,319.84 L981.69,317.39 L981,314.96 L980.3,312.53 L979.58,310.11 L978.84,307.69 L978.08,305.28 L977.3,302.88 L976.5,300.48 L975.67,298.09 L974.83,295.71 L973.96,293.34 L973.08,290.97 L972.17,288.62 L971.23,286.27 L970.28,283.93 L969.3,281.6 L969.3,281.6 L966.87,280.78 L964.44,279.96 L962.01,279.16 L959.57,278.38 L957.13,277.6 L954.68,276.84 L952.23,276.08 L949.78,275.34 L947.32,274.61 L944.87,273.89 L942.4,273.18 L939.94,272.48 L937.47,271.79 L935,271.11 L932.53,270.44 L930.06,269.78 L927.58,269.12 L925.1,268.48 L922.62,267.84 L920.13,267.21 L917.65,266.59 L915.16,265.97 L912.67,265.36 L910.18,264.76 L907.69,264.16 L905.2,263.57 L902.7,262.99 L900.21,262.41 L897.71,261.84 L895.21,261.27 L892.71,260.7 L890.21,260.14 L887.71,259.59 L885.21,259.04 L882.71,258.49 L880.2,257.94 L877.7,257.4 L877.7,211.8 L875.19,210.74 L872.77,209.91 L870.35,209.09 L867.92,208.3 L865.49,207.53 L863.06,206.77 L860.61,206.04 L858.17,205.32 L855.72,204.62 L853.26,203.94 L850.8,203.28 L848.34,202.63 L845.87,202 L843.4,201.39 L840.93,200.8 L838.45,200.22 L835.97,199.65 L833.48,199.1 L831,198.56 L828.5,198.04 L826.01,197.53 L823.51,197.04 L821.01,196.55 L818.51,196.08 L816,195.63 L813.5,195.18 L810.99,194.74 L808.47,194.32 L805.96,193.9 L803.44,193.5 L800.93,193.1 L798.41,192.72 L795.88,192.34 L793.36,191.97 L790.84,191.61 L788.31,191.26 L785.79,190.92 L783.26,190.58 L780.73,190.25 L778.2,189.92 L775.67,189.6 L773.14,189.28 L770.61,188.97 L768.08,188.67 L765.55,188.36 L763.02,188.07 L760.49,187.77 L757.96,187.48 L755.43,187.19 L752.9,186.9 Z" fill="#d5effd"/>
<path d="M1010.4,92.2 L1012.83,92.28 L1015.27,92.35 L1017.72,92.41 L1020.18,92.47 L1022.65,92.53 L1025.12,92.58 L1027.6,92.63 L1030.09,92.68 L1032.58,92.73 L1035.08,92.78 L1037.59,92.83 L1040.1,92.88 L1042.61,92.94 L1045.13,92.99 L1047.66,93.05 L1050.19,93.12 L1052.72,93.19 L1055.25,93.27 L1057.79,93.35 L1060.33,93.44 L1062.87,93.54 L1065.41,93.65 L1067.96,93.77 L1070.5,93.9 L1073.05,94.05 L1075.59,94.2 L1078.13,94.37 L1080.68,94.55 L1083.22,94.74 L1085.76,94.95 L1088.3,95.18 L1090.83,95.43 L1093.36,95.69 L1095.89,95.97 L1098.42,96.27 L1100.94,96.59 L1103.46,96.93 L1105.97,97.29 L1108.48,97.68 L1110.98,98.08 L1113.48,98.51 L1115.97,98.97 L1118.45,99.45 L1120.92,99.96 L1123.39,100.49 L1125.85,101.06 L1128.31,101.65 L1130.75,102.27 L1133.19,102.92 L1135.61,103.6 L1138.03,104.31 L1140.43,105.05 L1142.83,105.83 L1145.21,106.64 L1147.59,107.49 L1149.95,108.37 L1152.3,109.29 L1154.63,110.24 L1156.95,111.23 L1159.26,112.25 L1161.55,113.31 L1163.83,114.41 L1166.09,115.54 L1168.32,116.7 L1170.54,117.9 L1172.74,119.14 L1174.92,120.4 L1177.08,121.71 L1179.21,123.04 L1181.32,124.41 L1183.4,125.82 L1185.46,127.26 L1187.5,128.73 L1189.5,130.23 L1191.48,131.77 L1193.42,133.34 L1195.34,134.94 L1197.23,136.57 L1199.08,138.24 L1200.9,139.94 L1202.69,141.67 L1204.44,143.43 L1206.16,145.23 L1207.83,147.05 L1209.48,148.91 L1211.08,150.8 L1212.65,152.71 L1214.17,154.66 L1215.65,156.64 L1217.1,158.65 L1218.5,160.69 L1219.86,162.76 L1221.19,164.85 L1222.48,166.97 L1223.74,169.11 L1224.96,171.28 L1226.15,173.47 L1227.3,175.68 L1228.43,177.92 L1229.52,180.17 L1230.59,182.44 L1231.63,184.73 L1232.64,187.04 L1233.63,189.36 L1234.59,191.7 L1235.53,194.05 L1236.44,196.41 L1237.33,198.79 L1238.21,201.17 L1239.06,203.57 L1239.9,205.98 L1240.72,208.39 L1241.52,210.81 L1242.31,213.24 L1243.09,215.67 L1243.85,218.1 L1244.6,220.54 L1245.34,222.98 L1246.07,225.42 L1246.79,227.86 L1247.51,230.3 L1248.22,232.74 L1248.92,235.18 L1249.61,237.62 L1250.3,240.06 L1250.98,242.49 L1251.66,244.93 L1252.34,247.36 L1253.01,249.8 L1253.68,252.23 L1254.35,254.66 L1255.01,257.08 L1255.68,259.51 L1256.34,261.93 L1257,264.35 L1257.67,266.77 L1258.33,269.19 L1259,271.6 L1259.67,274.01 L1260.34,276.42 L1261.01,278.82 L1261.69,281.22 L1262.37,283.62 L1263.05,286.01 L1263.75,288.41 L1264.44,290.79 L1265.15,293.18 L1265.86,295.55 L1266.57,297.93 L1267.3,300.3 L1237,300.3 L1236.46,302.39 L1237.31,304.78 L1238.16,307.17 L1239.01,309.56 L1239.85,311.95 L1240.69,314.35 L1241.52,316.75 L1242.34,319.15 L1243.17,321.55 L1243.98,323.96 L1244.79,326.37 L1245.59,328.78 L1246.39,331.19 L1247.18,333.6 L1247.97,336.02 L1248.74,338.43 L1249.51,340.85 L1250.27,343.28 L1251.03,345.7 L1251.77,348.13 L1252.51,350.56 L1253.24,352.99 L1253.96,355.43 L1254.67,357.86 L1255.37,360.3 L1256.06,362.74 L1256.74,365.19 L1257.42,367.64 L1258.08,370.09 L1258.73,372.54 L1259.37,374.99 L1260,377.45 L1260.61,379.91 L1261.22,382.38 L1261.81,384.84 L1262.4,387.31 L1262.97,389.78 L1263.52,392.26 L1264.07,394.74 L1264.6,397.22 L1265.12,399.7 L1265.62,402.19 L1266.11,404.68 L1266.59,407.17 L1267.05,409.66 L1267.5,412.16 L1267.93,414.66 L1268.35,417.17 L1268.76,419.68 L1269.14,422.19 L1269.51,424.7 L1269.87,427.22 L1270.21,429.74 L1270.53,432.27 L1270.84,434.79 L1271.13,437.33 L1271.4,439.86 L1271.65,442.4 L1271.89,444.94 L1272.11,447.48 L1272.31,450.03 L1272.49,452.59 L1272.66,455.14 L1272.8,457.7 L1211.3,436.9 L1210.74,434.49 L1210.16,432.08 L1209.56,429.67 L1208.95,427.26 L1208.31,424.85 L1207.66,422.45 L1206.99,420.05 L1206.3,417.65 L1205.59,415.25 L1204.87,412.85 L1204.12,410.46 L1203.36,408.08 L1202.58,405.69 L1201.78,403.32 L1200.96,400.94 L1200.12,398.58 L1199.26,396.22 L1198.38,393.86 L1197.48,391.51 L1196.57,389.17 L1195.63,386.84 L1194.67,384.51 L1193.7,382.19 L1192.7,379.88 L1191.69,377.58 L1190.65,375.29 L1189.6,373.01 L1188.53,370.73 L1187.43,368.47 L1186.32,366.22 L1185.18,363.98 L1184.03,361.75 L1182.85,359.53 L1181.65,357.33 L1180.44,355.13 L1179.2,352.95 L1177.94,350.79 L1176.66,348.63 L1175.36,346.5 L1174.04,344.37 L1172.7,342.26 L1171.34,340.17 L1169.95,338.09 L1168.55,336.02 L1167.12,333.97 L1165.67,331.94 L1164.2,329.93 L1162.71,327.93 L1161.2,325.95 L1159.67,323.99 L1158.11,322.05 L1156.53,320.13 L1154.93,318.22 L1153.31,316.34 L1151.67,314.47 L1150,312.63 L1148.31,310.8 L1146.6,309 L1145.81,305.94 L1145.03,303.57 L1144.27,301.19 L1143.53,298.81 L1142.79,296.42 L1142.08,294.02 L1141.37,291.62 L1140.68,289.21 L1140,286.8 L1139.32,284.38 L1138.66,281.96 L1138.01,279.53 L1137.36,277.1 L1136.72,274.67 L1136.08,272.23 L1135.45,269.79 L1134.83,267.34 L1134.21,264.9 L1133.59,262.45 L1132.97,260 L1132.35,257.55 L1131.73,255.1 L1131.12,252.65 L1130.5,250.2 L1129.87,247.75 L1129.25,245.3 L1128.62,242.85 L1127.98,240.4 L1127.34,237.95 L1126.69,235.51 L1126.04,233.07 L1125.37,230.63 L1124.7,228.19 L1124.02,225.76 L1123.32,223.33 L1122.62,220.9 L1121.9,218.48 L1121.16,216.06 L1120.42,213.65 L1119.65,211.24 L1118.87,208.84 L1118.07,206.45 L1117.25,204.08 L1116.4,201.71 L1115.53,199.35 L1114.63,197.01 L1113.7,194.69 L1112.73,192.38 L1111.74,190.1 L1110.7,187.83 L1109.63,185.59 L1108.51,183.36 L1107.35,181.17 L1106.15,179 L1104.9,176.86 L1103.6,174.74 L1102.26,172.65 L1100.88,170.59 L1099.46,168.56 L1097.99,166.55 L1096.48,164.57 L1094.94,162.61 L1093.36,160.68 L1091.74,158.78 L1090.09,156.9 L1088.41,155.04 L1086.69,153.21 L1084.95,151.41 L1083.17,149.62 L1081.37,147.87 L1079.54,146.13 L1077.68,144.42 L1075.8,142.73 L1073.9,141.07 L1071.97,139.43 L1070.02,137.81 L1068.05,136.22 L1066.05,134.66 L1064.04,133.12 L1062.01,131.61 L1059.95,130.13 L1057.88,128.68 L1055.78,127.25 L1053.67,125.86 L1051.53,124.5 L1049.38,123.18 L1047.21,121.89 L1045.03,120.63 L1042.82,119.4 L1040.6,118.22 L1038.37,117.06 L1036.11,115.95 L1033.85,114.88 L1031.56,113.84 L1029.26,112.84 L1026.95,111.89 L1024.63,110.97 L1022.29,110.1 L1019.93,109.27 L1017.57,108.48 L1015.19,107.74 L1012.8,107.05 L1010.4,106.4 Z" fill="#b8e4f9"/>
<line x1="215.5" y1="21" x2="215.5" y2="523" stroke="#1a1a1a" stroke-width="1"/>
<line x1="313.5" y1="21" x2="313.5" y2="523" stroke="#1a1a1a" stroke-width="1"/>
<line x1="383.5" y1="21" x2="383.5" y2="523" stroke="#1a1a1a" stroke-width="1"/>
<line x1="437.5" y1="21" x2="437.5" y2="523" stroke="#1a1a1a" stroke-width="1"/>
<line x1="481.5" y1="21" x2="481.5" y2="523" stroke="#1a1a1a" stroke-width="1"/>
<line x1="517.5" y1="21" x2="517.5" y2="523" stroke="#1a1a1a" stroke-width="1"/>
<line x1="550.5" y1="21" x2="550.5" y2="523" stroke="#1a1a1a" stroke-width="1"/>
<line x1="604.5" y1="21" x2="604.5" y2="523" stroke="#1a1a1a" stroke-width="1"/>
<line x1="580.5" y1="18.5" x2="580.5" y2="525.5" stroke="#1a1a1a" stroke-width="1"/>
<line x1="146.5" y1="21" x2="146.5" y2="523" stroke="#1a1a1a" stroke-width="3.2"/>
<line x1="47" y1="66.5" x2="668" y2="66.5" stroke="#1a1a1a" stroke-width="1"/>
<line x1="47" y1="123.5" x2="668" y2="123.5" stroke="#1a1a1a" stroke-width="1"/>
<line x1="47" y1="204.5" x2="668" y2="204.5" stroke="#1a1a1a" stroke-width="1"/>
<line x1="47" y1="342.5" x2="668" y2="342.5" stroke="#1a1a1a" stroke-width="1"/>
<line x1="47" y1="363.5" x2="668" y2="363.5" stroke="#1a1a1a" stroke-width="1"/>
<line x1="47" y1="386.5" x2="668" y2="386.5" stroke="#1a1a1a" stroke-width="1"/>
<line x1="47" y1="413.5" x2="668" y2="413.5" stroke="#1a1a1a" stroke-width="1"/>
<line x1="47" y1="479.5" x2="668" y2="479.5" stroke="#1a1a1a" stroke-width="1"/>
<line x1="47" y1="444" x2="668" y2="444" stroke="#1a1a1a" stroke-width="2"/>
<line x1="769.5" y1="19" x2="769.5" y2="524" stroke="#1a1a1a" stroke-width="1"/>
<line x1="800.5" y1="19" x2="800.5" y2="524" stroke="#1a1a1a" stroke-width="1"/>
<line x1="850.5" y1="19" x2="850.5" y2="524" stroke="#1a1a1a" stroke-width="1"/>
<line x1="871.5" y1="19" x2="871.5" y2="524" stroke="#1a1a1a" stroke-width="1"/>
<line x1="1091.5" y1="19" x2="1091.5" y2="524" stroke="#1a1a1a" stroke-width="1"/>
<line x1="1148.5" y1="19" x2="1148.5" y2="524" stroke="#1a1a1a" stroke-width="1"/>
<line x1="1192.5" y1="19" x2="1192.5" y2="524" stroke="#1a1a1a" stroke-width="1"/>
<line x1="1226.5" y1="19" x2="1226.5" y2="524" stroke="#1a1a1a" stroke-width="1"/>
<line x1="1283.5" y1="19" x2="1283.5" y2="524" stroke="#1a1a1a" stroke-width="1"/>
<line x1="1307.5" y1="19" x2="1307.5" y2="524" stroke="#1a1a1a" stroke-width="1"/>
<line x1="1325.5" y1="19" x2="1325.5" y2="525.8" stroke="#1a1a1a" stroke-width="1"/>
<line x1="1336.5" y1="19" x2="1336.5" y2="525.8" stroke="#1a1a1a" stroke-width="1"/>
<line x1="827" y1="19" x2="827" y2="524" stroke="#1a1a1a" stroke-width="2.3"/>
<line x1="1010" y1="19" x2="1010" y2="524" stroke="#1a1a1a" stroke-width="2.3"/>
<line x1="1257" y1="19" x2="1257" y2="524" stroke="#1a1a1a" stroke-width="2.3"/>
<line x1="737" y1="70.5" x2="1349" y2="70.5" stroke="#1a1a1a" stroke-width="1"/>
<line x1="737" y1="89.5" x2="1349" y2="89.5" stroke="#1a1a1a" stroke-width="1"/>
<line x1="737" y1="109.5" x2="1349" y2="109.5" stroke="#1a1a1a" stroke-width="1"/>
<line x1="737" y1="131.5" x2="1349" y2="131.5" stroke="#1a1a1a" stroke-width="1"/>
<line x1="737" y1="156.5" x2="1349" y2="156.5" stroke="#1a1a1a" stroke-width="1"/>
<line x1="737" y1="185.5" x2="1349" y2="185.5" stroke="#1a1a1a" stroke-width="1"/>
<line x1="737" y1="220.5" x2="1349" y2="220.5" stroke="#1a1a1a" stroke-width="1"/>
<line x1="737" y1="262.5" x2="1349" y2="262.5" stroke="#1a1a1a" stroke-width="1"/>
<line x1="737" y1="317.5" x2="1349" y2="317.5" stroke="#1a1a1a" stroke-width="1"/>
<line x1="737" y1="393.5" x2="1349" y2="393.5" stroke="#1a1a1a" stroke-width="1"/>
<line x1="737" y1="29.5" x2="1351.5" y2="29.5" stroke="#1a1a1a" stroke-width="1"/>
<line x1="737" y1="41.5" x2="1351.5" y2="41.5" stroke="#1a1a1a" stroke-width="1"/>
<line x1="1349" y1="70.5" x2="1351.5" y2="70.5" stroke="#1a1a1a" stroke-width="1"/>
<line x1="737" y1="55" x2="1351.5" y2="55" stroke="#1a1a1a" stroke-width="2"/>
<rect x="413" y="297.6" width="84" height="23.4" fill="#d5effd" clip-path="url(#cL)"/>
<rect x="385" y="147" width="85" height="24" fill="#d5effd" clip-path="url(#cL)"/>
<rect x="555" y="150.8" width="89" height="23.1" fill="#b8e4f9" clip-path="url(#cD)"/>
<rect x="520" y="246.3" width="56" height="37.7" fill="#b8e4f9" clip-path="url(#cD)"/>
<rect x="566" y="286.6" width="86" height="24.4" fill="#b8e4f9" clip-path="url(#cD)"/>
<rect x="521.1" y="350.6" width="47.9" height="33.7" fill="#f3f9fe"/>
<rect x="418" y="27.2" width="223.1" height="32.5" fill="#f8f8fb"/>
<rect x="830" y="132.1" width="82" height="22.1" fill="#d5effd" clip-path="url(#cRL)"/>
<rect x="940" y="110.5" width="81" height="19.3" fill="#d5effd" clip-path="url(#cRL)"/>
<rect x="1163.4" y="160.6" width="53.6" height="37.5" fill="#b8e4f9" clip-path="url(#cRD)"/>
<rect x="1112" y="186.5" width="51" height="26.3" fill="#b8e4f9" clip-path="url(#cRD)"/>
<rect x="1070" y="323.5" width="47" height="38.5" fill="#d5effd" clip-path="url(#cRL)"/>
<rect x="1168" y="273.5" width="48" height="38.5" fill="#b8e4f9" clip-path="url(#cRD)"/>
<rect x="1101.7" y="29" width="218.3" height="40.4" fill="#f8f8fb"/>
<rect x="47" y="21" width="621" height="502" fill="none" stroke="#1a1a1a" stroke-width="2"/>
<rect x="737" y="19" width="612" height="505" fill="none" stroke="#1a1a1a" stroke-width="2"/>
<path d="M147,94 L149.49,94.19 L151.98,94.37 L154.47,94.56 L156.97,94.74 L159.46,94.92 L161.96,95.11 L164.46,95.29 L166.96,95.48 L169.46,95.67 L171.97,95.86 L174.47,96.06 L176.98,96.25 L179.48,96.45 L181.99,96.66 L184.5,96.87 L187,97.08 L189.51,97.3 L192.02,97.53 L194.53,97.76 L197.03,97.99 L199.54,98.24 L202.05,98.49 L204.55,98.75 L207.06,99.02 L209.56,99.3 L212.07,99.58 L214.57,99.88 L217.07,100.19 L219.57,100.5 L222.07,100.83 L224.57,101.17 L227.07,101.52 L229.56,101.88 L232.05,102.26 L234.54,102.65 L237.03,103.05 L239.51,103.46 L242,103.89 L244.48,104.34 L246.95,104.8 L249.43,105.27 L251.9,105.77 L254.37,106.27 L256.83,106.8 L259.3,107.34 L261.75,107.9 L264.21,108.48 L266.66,109.08 L269.11,109.69 L271.55,110.33 L273.99,110.98 L276.43,111.66 L278.86,112.36 L281.28,113.08 L283.7,113.82 L286.11,114.58 L288.52,115.36 L290.91,116.17 L293.3,117.01 L295.67,117.87 L298.04,118.75 L300.39,119.66 L302.73,120.6 L305.06,121.57 L307.37,122.56 L309.66,123.58 L311.94,124.63 L314.2,125.71 L316.45,126.82 L318.67,127.96 L320.88,129.14 L323.06,130.34 L325.23,131.58 L327.37,132.85 L329.49,134.16 L331.58,135.5 L333.65,136.87 L335.69,138.28 L337.71,139.73 L339.7,141.21 L341.66,142.73 L343.6,144.29 L345.51,145.87 L347.39,147.49 L349.25,149.15 L351.08,150.83 L352.89,152.55 L354.66,154.3 L356.41,156.07 L358.14,157.88 L359.84,159.71 L361.51,161.58 L363.16,163.46 L364.78,165.38 L366.37,167.32 L367.94,169.29 L369.49,171.28 L371,173.29 L372.49,175.33 L373.96,177.39 L375.4,179.47 L376.82,181.57 L378.21,183.69 L379.57,185.83 L380.91,187.99 L382.22,190.16 L383.51,192.35 L384.77,194.56 L386.01,196.79 L387.23,199.03 L388.41,201.28 L389.58,203.55 L390.72,205.83 L391.83,208.13 L392.92,210.43 L393.98,212.75 L395.02,215.07 L396.04,217.41 L397.03,219.75 L398,222.11 L398.94,224.46 L399.86,226.83 L400.75,229.2 L401.62,231.58 L402.47,233.96 L403.29,236.34 L404.09,238.73 L404.86,241.12 L405.61,243.51 L406.34,245.91 L407.04,248.3 L407.72,250.69 L408.37,253.08 L409.01,255.47 L409.62,257.86 L410.2,260.24 L410.76,262.62 L411.3,265 L395.8,378.5 L397.8,385.5" fill="none" stroke="#1a1a1a" stroke-width="1.75" stroke-linejoin="round"/>
<path d="M147,192.2 L149.39,192.51 L151.8,192.81 L154.22,193.09 L156.66,193.36 L159.12,193.62 L161.59,193.88 L164.07,194.13 L166.56,194.38 L169.06,194.62 L171.57,194.86 L174.09,195.1 L176.61,195.35 L179.14,195.6 L181.68,195.85 L184.22,196.11 L186.76,196.38 L189.31,196.66 L191.86,196.95 L194.4,197.26 L196.95,197.58 L199.49,197.92 L202.03,198.27 L204.57,198.65 L207.1,199.04 L209.62,199.46 L212.14,199.91 L214.64,200.38 L217.14,200.88 L219.63,201.4 L222.11,201.96 L224.57,202.55 L227.02,203.18 L229.46,203.84 L231.88,204.54 L234.28,205.28 L236.67,206.05 L239.04,206.86 L241.4,207.71 L243.74,208.59 L246.07,209.5 L248.38,210.45 L250.68,211.43 L252.96,212.45 L255.22,213.49 L257.47,214.57 L259.71,215.68 L261.93,216.82 L264.13,217.99 L266.32,219.19 L268.5,220.42 L270.66,221.68 L272.8,222.96 L274.93,224.27 L277.05,225.61 L279.15,226.98 L281.23,228.37 L283.31,229.78 L285.36,231.22 L287.4,232.69 L289.43,234.17 L291.44,235.68 L293.44,237.22 L295.43,238.77 L297.4,240.34 L299.35,241.94 L301.29,243.56 L303.22,245.19 L305.13,246.85 L307.03,248.52 L308.91,250.21 L310.78,251.92 L312.64,253.65 L314.48,255.39 L316.31,257.15 L318.12,258.92 L319.93,260.71 L321.71,262.51 L323.48,264.32 L325.24,266.15 L326.99,267.99 L328.72,269.84 L330.44,271.71 L332.14,273.58 L333.84,275.47 L335.51,277.36 L337.18,279.27 L338.83,281.19 L340.46,283.12 L342.08,285.05 L343.69,287 L345.28,288.96 L346.86,290.93 L348.42,292.91 L349.97,294.91 L351.5,296.91 L353.02,298.92 L354.52,300.94 L356.01,302.97 L357.48,305.01 L358.94,307.07 L360.38,309.13 L361.8,311.2 L363.21,313.28 L364.6,315.38 L365.98,317.48 L367.34,319.59 L368.68,321.71 L370.01,323.84 L371.32,325.99 L372.61,328.14 L373.89,330.3 L375.15,332.47 L376.39,334.65 L377.62,336.84 L378.82,339.04 L380.01,341.24 L381.18,343.46 L382.34,345.69 L383.47,347.92 L384.59,350.17 L385.68,352.43 L386.75,354.7 L387.79,356.98 L388.8,359.27 L389.79,361.58 L390.75,363.9 L391.68,366.24 L392.57,368.59 L393.43,370.95 L394.26,373.34 L395.05,375.73 L395.8,378.15 L396.51,380.58 L397.17,383.03 L397.8,385.5 L380.3,491.4 L341.5,483.5" fill="none" stroke="#1a1a1a" stroke-width="1.75" stroke-linejoin="round"/>
<path d="M147,297.4 L149.62,297.55 L152.23,297.74 L154.83,297.97 L157.41,298.24 L159.98,298.54 L162.54,298.88 L165.09,299.26 L167.62,299.68 L170.14,300.13 L172.65,300.62 L175.14,301.14 L177.63,301.7 L180.09,302.29 L182.55,302.92 L184.99,303.59 L187.41,304.29 L189.82,305.02 L192.22,305.78 L194.6,306.58 L196.97,307.41 L199.32,308.28 L201.66,309.17 L203.99,310.1 L206.29,311.06 L208.59,312.05 L210.86,313.07 L213.13,314.13 L215.37,315.21 L217.6,316.32 L219.82,317.46 L222.02,318.63 L224.2,319.83 L226.36,321.06 L228.51,322.32 L230.64,323.61 L232.76,324.92 L234.86,326.26 L236.94,327.63 L239,329.02 L241.05,330.44 L243.08,331.89 L245.09,333.36 L247.08,334.86 L249.06,336.38 L251.01,337.93 L252.95,339.5 L254.87,341.1 L256.77,342.72 L258.66,344.36 L260.52,346.02 L262.36,347.71 L264.19,349.42 L266,351.16 L267.78,352.91 L269.55,354.69 L271.3,356.49 L273.02,358.31 L274.73,360.15 L276.42,362.01 L278.09,363.89 L279.73,365.78 L281.36,367.7 L282.97,369.64 L284.55,371.59 L286.12,373.57 L287.67,375.56 L289.2,377.56 L290.71,379.59 L292.2,381.63 L293.67,383.68 L295.12,385.75 L296.55,387.84 L297.97,389.94 L299.36,392.05 L300.74,394.18 L302.1,396.32 L303.44,398.48 L304.76,400.65 L306.07,402.82 L307.36,405.02 L308.63,407.22 L309.88,409.43 L311.11,411.65 L312.33,413.89 L313.53,416.13 L314.72,418.38 L315.88,420.64 L317.03,422.91 L318.17,425.19 L319.28,427.47 L320.38,429.76 L321.47,432.06 L322.54,434.37 L323.59,436.68 L324.63,438.99 L325.65,441.32 L326.65,443.64 L327.64,445.97 L328.62,448.31 L329.58,450.64 L330.52,452.98 L331.45,455.33 L332.37,457.67 L333.27,460.02 L334.16,462.37 L335.03,464.72 L335.88,467.07 L336.73,469.42 L337.56,471.77 L338.37,474.12 L339.17,476.47 L339.96,478.81 L340.74,481.16 L341.5,483.5" fill="none" stroke="#1a1a1a" stroke-width="1.75" stroke-linejoin="round"/>
<path d="M219.5,100.1 L219.5,73.2 L222.01,73.4 L224.53,73.59 L227.04,73.79 L229.56,73.98 L232.08,74.16 L234.59,74.35 L237.11,74.54 L239.63,74.72 L242.15,74.91 L244.67,75.09 L247.19,75.28 L249.71,75.47 L252.23,75.65 L254.75,75.84 L257.28,76.03 L259.8,76.23 L262.32,76.42 L264.84,76.62 L267.36,76.83 L269.88,77.03 L272.4,77.24 L274.92,77.46 L277.44,77.68 L279.96,77.91 L282.47,78.14 L284.99,78.37 L287.5,78.62 L290.02,78.87 L292.53,79.13 L295.04,79.39 L297.56,79.67 L300.07,79.95 L302.57,80.24 L305.08,80.54 L307.58,80.85 L310.09,81.17 L312.59,81.5 L315.09,81.84 L317.59,82.19 L320.08,82.55 L322.58,82.92 L325.07,83.31 L327.56,83.71 L330.04,84.12 L332.53,84.54 L335.01,84.98 L337.49,85.43 L339.96,85.9 L342.44,86.38 L344.91,86.87 L347.38,87.38 L349.84,87.91 L352.3,88.45 L354.76,89.01 L357.22,89.59 L359.67,90.19 L362.12,90.8 L364.56,91.43 L367,92.08 L369.44,92.74 L371.88,93.43 L374.31,94.13 L376.73,94.86 L379.15,95.61 L381.57,96.37 L383.99,97.16 L386.39,97.97 L388.8,98.8 L391.11,99.73 L393.44,100.64 L395.77,101.54 L398.12,102.43 L400.48,103.31 L402.84,104.18 L405.21,105.05 L407.58,105.92 L409.95,106.8 L412.33,107.69 L414.7,108.59 L417.07,109.5 L419.43,110.44 L421.79,111.39 L424.14,112.36 L426.49,113.35 L428.82,114.36 L431.14,115.4 L433.45,116.46 L435.75,117.54 L438.03,118.65 L440.29,119.79 L442.54,120.96 L444.76,122.16 L446.97,123.39 L449.15,124.65 L451.31,125.94 L453.44,127.27 L455.55,128.63 L457.63,130.03 L459.68,131.47 L461.69,132.95 L463.68,134.46 L465.64,136.02 L467.56,137.61 L469.45,139.24 L471.31,140.91 L473.14,142.61 L474.94,144.35 L476.72,146.12 L478.46,147.92 L480.18,149.75 L481.86,151.61 L483.53,153.5 L485.16,155.42 L486.77,157.36 L488.35,159.33 L489.91,161.32 L491.45,163.34 L492.96,165.37 L494.45,167.43 L495.92,169.51 L497.36,171.6 L498.78,173.72 L500.18,175.85 L501.56,177.99 L502.92,180.15 L504.26,182.32 L505.59,184.5 L506.89,186.69 L508.18,188.89 L509.44,191.11 L510.7,193.32 L511.93,195.55 L513.15,197.78 L514.36,200.01 L515.55,202.25 L516.72,204.48 L517.88,206.72 L519.03,208.96 L520.17,211.19 L521.29,213.43 L522.41,215.66 L523.51,217.88 L524.6,220.1 L503.1,304" fill="none" stroke="#1a1a1a" stroke-width="1.75" stroke-linejoin="round"/>
<path d="M388.8,98.8 L391.15,99.58 L393.53,100.3 L395.93,100.98 L398.35,101.62 L400.79,102.22 L403.25,102.8 L405.71,103.34 L408.19,103.87 L410.67,104.38 L413.17,104.88 L415.66,105.37 L418.16,105.86 L420.66,106.36 L423.16,106.86 L425.66,107.36 L428.15,107.89 L430.63,108.43 L433.1,108.99 L435.57,109.58 L438.02,110.2 L440.45,110.85 L442.87,111.54 L445.27,112.26 L447.66,113.03 L450.02,113.83 L452.37,114.67 L454.7,115.55 L457.01,116.47 L459.29,117.44 L461.56,118.45 L463.8,119.5 L466.02,120.6 L468.21,121.74 L470.38,122.94 L472.52,124.18 L474.64,125.47 L476.73,126.8 L478.8,128.18 L480.84,129.59 L482.87,131.05 L484.87,132.54 L486.86,134.06 L488.83,135.61 L490.79,137.18 L492.73,138.78 L494.66,140.4 L496.57,142.04 L498.48,143.69 L500.37,145.36 L502.26,147.05 L504.12,148.76 L505.98,150.48 L507.82,152.22 L509.65,153.98 L511.46,155.75 L513.26,157.54 L515.04,159.35 L516.81,161.17 L518.56,163.01 L520.3,164.86 L522.01,166.74 L523.71,168.62 L525.4,170.52 L527.06,172.44 L528.71,174.38 L530.34,176.33 L531.95,178.29 L533.54,180.27 L535.11,182.26 L536.66,184.27 L538.19,186.29 L539.69,188.33 L541.18,190.38 L542.64,192.45 L544.09,194.53 L545.5,196.62 L546.9,198.73 L548.27,200.85 L549.62,202.99 L550.95,205.14 L552.25,207.3 L553.52,209.47 L554.77,211.66 L556,213.86 L557.2,216.08 L558.37,218.3 L559.51,220.54 L560.63,222.79 L561.72,225.06 L562.78,227.33 L563.81,229.62 L564.82,231.92 L565.79,234.23 L566.74,236.56 L567.65,238.89 L568.53,241.24 L569.39,243.59 L570.21,245.96 L571,248.34 L571.76,250.73 L572.49,253.13 L573.18,255.54 L573.84,257.97 L574.47,260.4 L575.06,262.84 L575.62,265.29 L576.14,267.75 L576.63,270.23 L577.08,272.71 L577.5,275.2 L552,323.5" fill="none" stroke="#1a1a1a" stroke-width="1.75" stroke-linejoin="round"/>
<path d="M388.8,98.8 L388.8,76.4 L391.22,76.68 L393.64,76.95 L396.06,77.22 L398.5,77.49 L400.93,77.76 L403.38,78.02 L405.83,78.28 L408.28,78.54 L410.74,78.79 L413.2,79.05 L415.67,79.3 L418.14,79.56 L420.62,79.81 L423.1,80.06 L425.58,80.32 L428.07,80.57 L430.56,80.83 L433.05,81.09 L435.55,81.34 L438.05,81.61 L440.55,81.87 L443.05,82.14 L445.56,82.4 L448.06,82.68 L450.57,82.95 L453.08,83.23 L455.59,83.52 L458.1,83.81 L460.61,84.1 L463.12,84.4 L465.63,84.71 L468.15,85.02 L470.66,85.34 L473.17,85.66 L475.68,86 L478.19,86.34 L480.7,86.68 L483.2,87.04 L485.71,87.4 L488.21,87.77 L490.72,88.15 L493.22,88.54 L495.71,88.94 L498.21,89.36 L500.7,89.78 L503.19,90.21 L505.68,90.65 L508.16,91.1 L510.64,91.57 L513.11,92.05 L515.59,92.54 L518.05,93.04 L520.51,93.55 L522.97,94.08 L525.43,94.62 L527.87,95.18 L530.32,95.75 L532.75,96.34 L535.18,96.94 L537.61,97.55 L540.03,98.18 L542.44,98.83 L544.85,99.5 L547.25,100.18 L549.64,100.87 L552.03,101.59 L554.4,102.32 L556.77,103.07 L559.14,103.84 L561.49,104.63 L563.84,105.43 L566.17,106.26 L568.5,107.1 L570.82,107.97 L573.13,108.85 L575.43,109.76 L577.72,110.69 L580,111.63 L582.27,112.6 L584.52,113.6 L586.77,114.61 L589.01,115.65 L591.23,116.71 L593.44,117.79 L595.64,118.9 L597.83,120.03 L600,121.19 L602.17,122.37 L604.31,123.57 L606.45,124.8 L608.57,126.06 L610.68,127.34 L612.77,128.65 L614.85,129.98 L616.92,131.34 L618.97,132.73 L621,134.15 L623.02,135.6 L625.02,137.07 L627.01,138.57 L628.98,140.1 L630.93,141.66 L632.87,143.25 L634.79,144.87 L636.69,146.52 L638.58,148.21 L640.45,149.92 L642.3,151.66 L644.13,153.44 L645.94,155.24 L647.74,157.08 L649.51,158.96 L651.27,160.86 L653,162.8 L630.5,252.6" fill="none" stroke="#1a1a1a" stroke-width="1.75" stroke-linejoin="round"/>
<path d="M537.6,185.1 L539.95,185.97 L542.28,186.87 L544.61,187.8 L546.92,188.76 L549.23,189.75 L551.52,190.77 L553.8,191.81 L556.07,192.88 L558.32,193.98 L560.57,195.11 L562.8,196.26 L565.01,197.44 L567.21,198.65 L569.4,199.89 L571.57,201.15 L573.73,202.44 L575.87,203.75 L577.99,205.09 L580.1,206.45 L582.2,207.85 L584.27,209.26 L586.33,210.7 L588.37,212.17 L590.4,213.66 L592.4,215.17 L594.39,216.71 L596.35,218.28 L598.3,219.86 L600.23,221.47 L602.14,223.11 L604.03,224.76 L605.89,226.44 L607.74,228.15 L609.56,229.87 L611.36,231.62 L613.15,233.39 L614.9,235.18 L616.64,236.99 L618.35,238.83 L620.04,240.68 L621.7,242.56 L623.34,244.46 L624.96,246.38 L626.55,248.32 L628.11,250.28 L629.65,252.26 L631.17,254.26 L632.65,256.28 L634.11,258.32 L635.55,260.37 L636.95,262.45 L638.33,264.55 L639.68,266.66 L641,268.8 L642.29,270.95 L643.55,273.12 L644.79,275.3 L645.99,277.51 L647.17,279.73 L648.31,281.97 L649.42,284.23 L650.5,286.5 L625.4,468.8" fill="none" stroke="#1a1a1a" stroke-width="1.75" stroke-linejoin="round"/>
<path d="M552,323.5 L553.8,325.32 L555.58,327.15 L557.33,329.01 L559.05,330.89 L560.74,332.79 L562.4,334.71 L564.04,336.64 L565.65,338.6 L567.23,340.57 L568.79,342.57 L570.32,344.57 L571.83,346.6 L573.31,348.64 L574.77,350.7 L576.2,352.78 L577.61,354.87 L579,356.98 L580.36,359.1 L581.7,361.23 L583.02,363.38 L584.31,365.55 L585.59,367.73 L586.84,369.92 L588.07,372.12 L589.29,374.34 L590.48,376.56 L591.65,378.8 L592.81,381.05 L593.94,383.31 L595.06,385.59 L596.16,387.87 L597.24,390.16 L598.3,392.46 L599.35,394.77 L600.38,397.09 L601.39,399.41 L602.39,401.75 L603.37,404.09 L604.33,406.44 L605.29,408.8 L606.22,411.16 L607.15,413.53 L608.06,415.9 L608.96,418.28 L609.84,420.66 L610.71,423.05 L611.57,425.45 L612.42,427.84 L613.26,430.24 L614.08,432.64 L614.9,435.05 L615.7,437.46 L616.5,439.87 L617.28,442.28 L618.06,444.69 L618.82,447.11 L619.58,449.52 L620.33,451.93 L621.08,454.35 L621.81,456.76 L622.54,459.17 L623.27,461.58 L623.98,463.99 L624.69,466.4 L625.4,468.8" fill="none" stroke="#1a1a1a" stroke-width="1.75" stroke-linejoin="round"/>
<path d="M375.7,179.1 L378.03,179.98 L380.36,180.88 L382.7,181.8 L385.04,182.72 L387.37,183.66 L389.71,184.62 L392.05,185.6 L394.38,186.59 L396.7,187.6 L399.03,188.62 L401.34,189.67 L403.65,190.73 L405.95,191.82 L408.25,192.92 L410.53,194.05 L412.8,195.19 L415.06,196.36 L417.3,197.55 L419.54,198.77 L421.75,200 L423.95,201.27 L426.13,202.55 L428.3,203.86 L430.44,205.2 L432.57,206.56 L434.67,207.95 L436.75,209.37 L438.81,210.81 L440.84,212.29 L442.84,213.79 L444.82,215.32 L446.78,216.88 L448.7,218.47 L450.59,220.1 L452.46,221.75 L454.29,223.44 L456.09,225.16 L457.85,226.91 L459.58,228.7 L461.28,230.52 L462.93,232.38 L464.55,234.27 L466.13,236.2 L467.67,238.16 L469.17,240.16 L470.63,242.2 L472.05,244.28 L473.42,246.39 L474.76,248.54 L476.07,250.71 L477.34,252.91 L478.59,255.13 L479.81,257.37 L481,259.63 L482.18,261.91 L483.34,264.2 L484.48,266.5 L485.61,268.81 L486.74,271.12 L487.85,273.43 L488.96,275.74 L490.07,278.05 L491.18,280.36 L492.29,282.65 L493.41,284.93 L494.53,287.21 L495.66,289.47 L496.79,291.72 L497.91,293.97 L499.03,296.22 L500.14,298.46 L501.24,300.71 L502.33,302.96 L503.41,305.21 L504.46,307.47 L505.49,309.74 L506.5,312.02 L507.47,314.32 L508.42,316.63 L509.33,318.96 L510.2,321.31 L511.03,323.68 L511.81,326.08 L512.54,328.51 L513.22,330.97 L513.84,333.47 L514.4,336 L491.1,516.2 L480.7,521.1" fill="none" stroke="#1a1a1a" stroke-width="1.75" stroke-linejoin="round"/>
<path d="M400.5,346.4 L402.48,347.97 L404.4,349.59 L406.27,351.26 L408.08,352.98 L409.85,354.74 L411.57,356.54 L413.24,358.39 L414.88,360.27 L416.47,362.18 L418.02,364.14 L419.54,366.12 L421.02,368.13 L422.47,370.17 L423.89,372.23 L425.28,374.31 L426.65,376.42 L427.99,378.54 L429.31,380.67 L430.62,382.82 L431.9,384.99 L433.18,387.16 L434.44,389.33 L435.69,391.51 L436.92,393.7 L438.15,395.89 L439.35,398.08 L440.54,400.29 L441.71,402.5 L442.86,404.72 L443.98,406.95 L445.07,409.2 L446.14,411.45 L447.18,413.72 L448.19,416 L449.17,418.28 L450.13,420.58 L451.07,422.89 L451.99,425.21 L452.88,427.53 L453.76,429.87 L454.62,432.21 L455.46,434.56 L456.29,436.91 L457.1,439.27 L457.9,441.64 L458.69,444.01 L459.47,446.39 L460.24,448.77 L460.99,451.16 L461.74,453.54 L462.49,455.94 L463.22,458.33 L463.94,460.73 L464.66,463.14 L465.37,465.54 L466.07,467.95 L466.77,470.36 L467.46,472.78 L468.15,475.19 L468.83,477.61 L469.51,480.02 L470.18,482.44 L470.85,484.86 L471.51,487.28 L472.17,489.7 L472.83,492.12 L473.49,494.55 L474.15,496.97 L474.8,499.39 L475.45,501.8 L476.11,504.22 L476.76,506.64 L477.41,509.05 L478.07,511.47 L478.72,513.88 L479.38,516.29 L480.04,518.7 L480.7,521.1" fill="none" stroke="#1a1a1a" stroke-width="1.75" stroke-linejoin="round"/>
<path d="M510.5,275.5 L511.82,277.66 L513.12,279.84 L514.4,282.02 L515.65,284.22 L516.89,286.42 L518.1,288.64 L519.29,290.86 L520.46,293.09 L521.61,295.34 L522.75,297.59 L523.86,299.85 L524.96,302.11 L526.04,304.39 L527.1,306.67 L528.15,308.96 L529.18,311.26 L530.2,313.57 L531.2,315.88 L532.19,318.2 L533.16,320.52 L534.12,322.85 L535.07,325.19 L536,327.53 L536.93,329.88 L537.84,332.24 L538.75,334.6 L539.64,336.96 L540.52,339.33 L541.4,341.7 L552,323.5" fill="none" stroke="#1a1a1a" stroke-width="1.75" stroke-linejoin="round"/>
<path d="M537,329 L511.3,362" fill="none" stroke="#1a1a1a" stroke-width="1.75" stroke-linejoin="round"/>
<path d="M521.8,316.4 L534.7,350.5" fill="none" stroke="#1a1a1a" stroke-width="1.75" stroke-linejoin="round"/>
<path d="M752.9,186.9 L752.9,99.3 L755.38,99.51 L757.86,99.71 L760.34,99.91 L762.82,100.1 L765.31,100.28 L767.8,100.46 L770.29,100.64 L772.78,100.8 L775.28,100.97 L777.78,101.13 L780.28,101.29 L782.78,101.45 L785.28,101.6 L787.78,101.75 L790.28,101.91 L792.79,102.06 L795.3,102.21 L797.8,102.36 L800.31,102.52 L802.82,102.67 L805.33,102.83 L807.83,102.99 L810.34,103.15 L812.85,103.32 L815.36,103.49 L817.86,103.67 L820.37,103.85 L822.88,104.03 L825.38,104.23 L827.89,104.43 L830.39,104.63 L832.89,104.85 L835.39,105.07 L837.89,105.3 L840.39,105.54 L842.89,105.8 L845.38,106.06 L847.87,106.33 L850.36,106.61 L852.85,106.91 L855.33,107.22 L857.81,107.54 L860.29,107.87 L862.77,108.22 L865.24,108.58 L867.72,108.96 L870.18,109.35 L872.65,109.76 L875.11,110.18 L877.56,110.62 L880.01,111.08 L882.46,111.56 L884.91,112.06 L887.34,112.58 L889.78,113.11 L892.2,113.67 L894.62,114.25 L897.04,114.86 L899.45,115.49 L901.85,116.14 L904.24,116.82 L906.63,117.52 L909.01,118.25 L911.38,119 L913.75,119.79 L916.1,120.6 L918.45,121.44 L920.79,122.31 L923.12,123.22 L925.44,124.15 L927.75,125.11 L930.05,126.09 L932.34,127.11 L934.62,128.15 L936.89,129.21 L939.15,130.31 L941.41,131.42 L943.65,132.56 L945.88,133.73 L948.11,134.92 L950.32,136.12 L952.52,137.35 L954.72,138.61 L956.9,139.88 L959.07,141.17 L961.23,142.48 L963.38,143.8 L965.52,145.15 L967.65,146.52 L969.76,147.91 L971.85,149.32 L973.93,150.75 L975.98,152.2 L978.02,153.68 L980.03,155.19 L982.02,156.72 L983.99,158.28 L985.92,159.86 L987.84,161.47 L989.72,163.11 L991.57,164.78 L993.39,166.48 L995.18,168.21 L996.93,169.97 L998.65,171.77 L1000.32,173.6 L1001.97,175.46 L1003.57,177.35 L1005.14,179.28 L1006.67,181.23 L1008.16,183.22 L1009.62,185.23 L1011.04,187.26 L1012.43,189.32 L1013.79,191.41 L1015.11,193.52 L1016.4,195.65 L1017.65,197.8 L1018.88,199.97 L1020.07,202.16 L1021.23,204.37 L1022.36,206.59 L1023.45,208.82 L1024.52,211.08 L1025.56,213.34 L1026.57,215.62 L1027.55,217.91 L1028.5,220.21 L1029.43,222.52 L1030.33,224.85 L1031.21,227.19 L1032.06,229.53 L1032.88,231.89 L1033.69,234.26 L1034.47,236.64 L1035.22,239.02 L1035.96,241.42 L1036.68,243.82 L1037.37,246.24 L1038.05,248.66 L1038.7,251.08 L1039.34,253.52 L1039.96,255.96 L1040.57,258.4 L1041.16,260.86 L1041.73,263.32 L1042.29,265.78 L1042.83,268.25 L1043.36,270.72 L1043.88,273.19 L1044.38,275.67 L1044.88,278.16 L1045.36,280.64 L1045.83,283.13 L1046.29,285.62 L1046.75,288.11 L1047.2,290.6 L1047.63,293.1 L1048.07,295.59 L1048.49,298.09 L1048.91,300.58 L1049.33,303.07 L1049.74,305.57 L1050.15,308.06 L1050.55,310.55 L1050.95,313.03 L1051.35,315.52 L1051.75,318 L1052.15,320.48 L1052.55,322.95 L1052.96,325.42 L1053.36,327.89 L1053.77,330.35 L1054.17,332.81 L1054.59,335.26 L1055,337.71 L1055.41,340.15 L1055.83,342.6 L1056.24,345.04 L1056.66,347.48 L1057.07,349.92 L1057.48,352.36 L1057.89,354.8 L1058.3,357.25 L1058.7,359.7 L1059.1,362.15 L1059.49,364.6 L1059.88,367.06 L1060.26,369.53 L1060.63,372 L1061,374.48 L1061.36,376.96 L1061.71,379.46 L1062.05,381.96 L1062.38,384.48 L1062.7,387 L994.2,387 L993.9,384.54 L993.59,382.07 L993.27,379.61 L992.94,377.14 L992.61,374.67 L992.26,372.2 L991.91,369.73 L991.55,367.25 L991.18,364.78 L990.79,362.3 L990.4,359.82 L990,357.35 L989.59,354.87 L989.17,352.39 L988.74,349.9 L988.29,347.42 L987.84,344.94 L987.38,342.45 L986.9,339.97 L986.41,337.48 L985.91,334.99 L985.4,332.5 L984.88,330.01 L984.35,327.52 L983.8,325.03 L983.23,322.55 L982.65,320.06 L982.05,317.58 L981.43,315.11 L980.79,312.65 L980.13,310.19 L979.44,307.74 L978.72,305.31 L977.97,302.89 L977.2,300.48 L976.39,298.09 L975.54,295.71 L974.67,293.36 L973.75,291.02 L972.8,288.71 L971.81,286.41 L970.77,284.15 L969.69,281.9 L968.57,279.69 L967.4,277.5 L966.19,275.34 L964.92,273.21 L963.61,271.12 L962.25,269.05 L960.85,267.02 L959.39,265.03 L957.88,263.07 L956.33,261.15 L954.72,259.27 L953.06,257.43 L951.36,255.62 L949.62,253.85 L947.83,252.12 L946,250.42 L944.14,248.76 L942.23,247.13 L940.3,245.53 L938.33,243.97 L936.33,242.43 L934.3,240.93 L932.24,239.46 L930.17,238.02 L928.06,236.6 L925.94,235.22 L923.8,233.86 L921.64,232.53 L919.45,231.23 L917.26,229.95 L915.04,228.7 L912.81,227.48 L910.57,226.28 L908.31,225.11 L906.04,223.97 L903.76,222.84 L901.48,221.75 L899.18,220.67 L896.88,219.62 L894.56,218.59 L892.25,217.59 L889.92,216.61 L887.59,215.65 L885.25,214.71 L882.91,213.79 L880.56,212.9 L878.2,212.02 L875.84,211.17 L873.47,210.33 L871.09,209.52 L868.71,208.72 L866.33,207.94 L863.94,207.19 L861.54,206.45 L859.14,205.73 L856.73,205.02 L854.32,204.34 L851.91,203.67 L849.49,203.01 L847.06,202.38 L844.63,201.76 L842.2,201.15 L839.76,200.56 L837.32,199.99 L834.87,199.43 L832.43,198.88 L829.97,198.35 L827.52,197.83 L825.06,197.33 L822.6,196.83 L820.13,196.35 L817.66,195.89 L815.19,195.43 L812.72,194.99 L810.24,194.55 L807.76,194.13 L805.28,193.72 L802.8,193.32 L800.32,192.93 L797.83,192.55 L795.34,192.17 L792.85,191.81 L790.36,191.45 L787.87,191.1 L785.37,190.77 L782.88,190.43 L780.38,190.11 L777.88,189.79 L775.39,189.48 L772.89,189.17 L770.39,188.87 L767.89,188.58 L765.39,188.29 L762.89,188 L760.39,187.72 L757.9,187.44 L755.4,187.17 L752.9,186.9" fill="none" stroke="#1a1a1a" stroke-width="1.75" stroke-linejoin="round"/>
<path d="M877.7,111.3 L877.7,92.2 L880.16,92.29 L882.62,92.37 L885.1,92.45 L887.57,92.53 L890.06,92.61 L892.54,92.69 L895.04,92.77 L897.53,92.85 L900.03,92.93 L902.54,93.01 L905.05,93.09 L907.56,93.17 L910.08,93.26 L912.59,93.35 L915.11,93.45 L917.64,93.55 L920.16,93.66 L922.69,93.77 L925.22,93.9 L927.74,94.02 L930.27,94.16 L932.8,94.3 L935.33,94.46 L937.86,94.62 L940.39,94.79 L942.92,94.98 L945.45,95.17 L947.97,95.38 L950.49,95.6 L953.02,95.84 L955.54,96.08 L958.05,96.35 L960.57,96.62 L963.08,96.92 L965.58,97.22 L968.09,97.55 L970.59,97.89 L973.08,98.25 L975.57,98.63 L978.06,99.03 L980.54,99.45 L983.01,99.88 L985.48,100.34 L987.94,100.82 L990.4,101.33 L992.85,101.85 L995.29,102.4 L997.72,102.97 L1000.15,103.56 L1002.57,104.19 L1004.98,104.83 L1007.38,105.5 L1009.77,106.2 L1012.16,106.93 L1014.53,107.68 L1016.89,108.47 L1019.25,109.28 L1021.59,110.12 L1023.92,110.99 L1026.24,111.9 L1028.54,112.84 L1030.84,113.81 L1033.11,114.81 L1035.38,115.85 L1037.63,116.93 L1039.86,118.04 L1042.08,119.18 L1044.28,120.37 L1046.46,121.59 L1048.63,122.86 L1050.78,124.15 L1052.91,125.49 L1055.03,126.85 L1057.13,128.25 L1059.22,129.68 L1061.3,131.13 L1063.36,132.62 L1065.4,134.13 L1067.42,135.67 L1069.43,137.23 L1071.41,138.83 L1073.38,140.45 L1075.32,142.09 L1077.23,143.77 L1079.12,145.47 L1080.99,147.19 L1082.82,148.95 L1084.62,150.72 L1086.39,152.53 L1088.13,154.36 L1089.83,156.21 L1091.49,158.09 L1093.12,160 L1094.71,161.93 L1096.26,163.89 L1097.76,165.88 L1099.23,167.89 L1100.64,169.93 L1102.02,171.99 L1103.34,174.09 L1104.62,176.21 L1105.85,178.36 L1107.03,180.54 L1108.15,182.75 L1109.23,184.98 L1110.27,187.24 L1111.27,189.51 L1112.23,191.81 L1113.15,194.13 L1114.05,196.47 L1114.91,198.82 L1115.75,201.18 L1116.57,203.56 L1117.37,205.94 L1118.15,208.33 L1118.93,210.73 L1119.69,213.14 L1120.44,215.54 L1121.19,217.95 L1121.93,220.35 L1122.68,222.76 L1123.41,225.17 L1124.14,227.58 L1124.87,230 L1125.59,232.41 L1126.31,234.82 L1127.03,237.24 L1127.74,239.65 L1128.45,242.07 L1129.15,244.49 L1129.85,246.91 L1130.54,249.33 L1131.23,251.75 L1131.92,254.17 L1132.6,256.59 L1133.28,259.01 L1133.96,261.44 L1134.63,263.86 L1135.29,266.29 L1135.96,268.71 L1136.62,271.14 L1137.27,273.57 L1137.92,276 L1138.57,278.43 L1139.22,280.86 L1139.86,283.29 L1140.49,285.72 L1141.13,288.15 L1141.76,290.58 L1142.38,293.02 L1143,295.45 L1143.62,297.89 L1144.24,300.32 L1144.85,302.76 L1145.46,305.2 L1146.06,307.63 L1146.67,310.07 L1147.26,312.51 L1147.86,314.95 L1148.45,317.39 L1149.04,319.83 L1149.62,322.27 L1150.21,324.71 L1150.78,327.15 L1151.36,329.6 L1151.93,332.04 L1152.5,334.48 L1153.07,336.93 L1153.63,339.37 L1154.19,341.82 L1154.75,344.26 L1155.3,346.71 L1155.85,349.15 L1156.4,351.6 L1126.8,351.6" fill="none" stroke="#1a1a1a" stroke-width="1.75" stroke-linejoin="round"/>
<path d="M877.7,211.8 L877.7,257.4 L880.2,257.94 L882.71,258.49 L885.21,259.04 L887.71,259.59 L890.21,260.14 L892.71,260.7 L895.21,261.27 L897.71,261.84 L900.21,262.41 L902.7,262.99 L905.2,263.57 L907.69,264.16 L910.18,264.76 L912.67,265.36 L915.16,265.97 L917.65,266.59 L920.13,267.21 L922.62,267.84 L925.1,268.48 L927.58,269.12 L930.06,269.78 L932.53,270.44 L935,271.11 L937.47,271.79 L939.94,272.48 L942.4,273.18 L944.87,273.89 L947.32,274.61 L949.78,275.34 L952.23,276.08 L954.68,276.84 L957.13,277.6 L959.57,278.38 L962.01,279.16 L964.44,279.96 L966.87,280.78 L969.3,281.6" fill="none" stroke="#1a1a1a" stroke-width="1.75" stroke-linejoin="round"/>
<path d="M1024,208.9 L1026.45,209.76 L1028.86,210.67 L1031.23,211.64 L1033.57,212.67 L1035.87,213.74 L1038.14,214.86 L1040.37,216.04 L1042.57,217.26 L1044.73,218.53 L1046.85,219.85 L1048.95,221.21 L1051,222.61 L1053.03,224.06 L1055.02,225.56 L1056.98,227.09 L1058.9,228.66 L1060.79,230.27 L1062.65,231.92 L1064.48,233.61 L1066.28,235.33 L1068.04,237.09 L1069.78,238.88 L1071.48,240.7 L1073.16,242.56 L1074.8,244.44 L1076.41,246.35 L1078,248.3 L1079.55,250.27 L1081.08,252.26 L1082.58,254.28 L1084.05,256.33 L1085.49,258.39 L1086.9,260.48 L1088.29,262.59 L1089.65,264.72 L1090.98,266.87 L1092.28,269.03 L1093.56,271.21 L1094.82,273.41 L1096.04,275.62 L1097.25,277.84 L1098.43,280.08 L1099.58,282.33 L1100.71,284.58 L1101.81,286.85 L1102.89,289.12 L1103.95,291.4 L1104.98,293.69 L1106,295.98 L1106.99,298.28 L1107.96,300.58 L1108.92,302.89 L1109.86,305.21 L1110.78,307.53 L1111.69,309.85 L1112.58,312.18 L1113.47,314.51 L1114.34,316.85 L1115.21,319.19 L1116.06,321.53 L1116.91,323.88 L1117.75,326.23 L1118.59,328.59 L1119.42,330.95 L1120.25,333.31 L1121.08,335.68 L1121.9,338.05 L1122.72,340.42 L1123.53,342.79 L1124.33,345.17 L1125.12,347.56 L1125.9,349.94 L1126.68,352.33 L1127.44,354.73 L1128.19,357.12 L1128.93,359.53 L1129.66,361.93 L1130.37,364.34 L1131.07,366.76 L1131.75,369.17 L1132.41,371.6 L1133.06,374.02 L1133.69,376.45 L1134.29,378.89 L1134.88,381.33 L1135.45,383.77 L1136,386.22 L1136.52,388.68 L1137.02,391.14 L1137.5,393.6 L1091.2,476.3 L1091.04,473.79 L1090.85,471.28 L1090.65,468.78 L1090.42,466.27 L1090.17,463.77 L1089.9,461.27 L1089.6,458.77 L1089.29,456.28 L1088.95,453.79 L1088.59,451.3 L1088.21,448.82 L1087.81,446.33 L1087.38,443.86 L1086.94,441.38 L1086.47,438.91 L1085.98,436.45 L1085.48,433.98 L1084.95,431.53 L1084.39,429.07 L1083.82,426.63 L1083.23,424.18 L1082.62,421.75 L1081.98,419.31 L1081.32,416.89 L1080.65,414.47 L1079.95,412.05 L1079.23,409.64 L1078.5,407.24 L1077.74,404.84 L1076.96,402.45 L1076.16,400.07 L1075.34,397.69 L1074.5,395.32 L1073.65,392.96 L1072.77,390.6 L1071.87,388.25 L1070.95,385.91 L1070.01,383.58 L1069.05,381.26 L1068.07,378.94 L1067.08,376.64 L1066.06,374.34 L1065.02,372.05 L1063.97,369.77 L1062.89,367.49 L1061.8,365.23 L1060.68,362.98 L1059.55,360.73 L1058.4,358.5" fill="none" stroke="#1a1a1a" stroke-width="1.75" stroke-linejoin="round"/>
<path d="M1010.4,106.4 L1010.4,92.2 L1012.83,92.28 L1015.27,92.35 L1017.72,92.41 L1020.18,92.47 L1022.65,92.53 L1025.12,92.58 L1027.6,92.63 L1030.09,92.68 L1032.58,92.73 L1035.08,92.78 L1037.59,92.83 L1040.1,92.88 L1042.61,92.94 L1045.13,92.99 L1047.66,93.05 L1050.19,93.12 L1052.72,93.19 L1055.25,93.27 L1057.79,93.35 L1060.33,93.44 L1062.87,93.54 L1065.41,93.65 L1067.96,93.77 L1070.5,93.9 L1073.05,94.05 L1075.59,94.2 L1078.13,94.37 L1080.68,94.55 L1083.22,94.74 L1085.76,94.95 L1088.3,95.18 L1090.83,95.43 L1093.36,95.69 L1095.89,95.97 L1098.42,96.27 L1100.94,96.59 L1103.46,96.93 L1105.97,97.29 L1108.48,97.68 L1110.98,98.08 L1113.48,98.51 L1115.97,98.97 L1118.45,99.45 L1120.92,99.96 L1123.39,100.49 L1125.85,101.06 L1128.31,101.65 L1130.75,102.27 L1133.19,102.92 L1135.61,103.6 L1138.03,104.31 L1140.43,105.05 L1142.83,105.83 L1145.21,106.64 L1147.59,107.49 L1149.95,108.37 L1152.3,109.29 L1154.63,110.24 L1156.95,111.23 L1159.26,112.25 L1161.55,113.31 L1163.83,114.41 L1166.09,115.54 L1168.32,116.7 L1170.54,117.9 L1172.74,119.14 L1174.92,120.4 L1177.08,121.71 L1179.21,123.04 L1181.32,124.41 L1183.4,125.82 L1185.46,127.26 L1187.5,128.73 L1189.5,130.23 L1191.48,131.77 L1193.42,133.34 L1195.34,134.94 L1197.23,136.57 L1199.08,138.24 L1200.9,139.94 L1202.69,141.67 L1204.44,143.43 L1206.16,145.23 L1207.83,147.05 L1209.48,148.91 L1211.08,150.8 L1212.65,152.71 L1214.17,154.66 L1215.65,156.64 L1217.1,158.65 L1218.5,160.69 L1219.86,162.76 L1221.19,164.85 L1222.48,166.97 L1223.74,169.11 L1224.96,171.28 L1226.15,173.47 L1227.3,175.68 L1228.43,177.92 L1229.52,180.17 L1230.59,182.44 L1231.63,184.73 L1232.64,187.04 L1233.63,189.36 L1234.59,191.7 L1235.53,194.05 L1236.44,196.41 L1237.33,198.79 L1238.21,201.17 L1239.06,203.57 L1239.9,205.98 L1240.72,208.39 L1241.52,210.81 L1242.31,213.24 L1243.09,215.67 L1243.85,218.1 L1244.6,220.54 L1245.34,222.98 L1246.07,225.42 L1246.79,227.86 L1247.51,230.3 L1248.22,232.74 L1248.92,235.18 L1249.61,237.62 L1250.3,240.06 L1250.98,242.49 L1251.66,244.93 L1252.34,247.36 L1253.01,249.8 L1253.68,252.23 L1254.35,254.66 L1255.01,257.08 L1255.68,259.51 L1256.34,261.93 L1257,264.35 L1257.67,266.77 L1258.33,269.19 L1259,271.6 L1259.67,274.01 L1260.34,276.42 L1261.01,278.82 L1261.69,281.22 L1262.37,283.62 L1263.05,286.01 L1263.75,288.41 L1264.44,290.79 L1265.15,293.18 L1265.86,295.55 L1266.57,297.93 L1267.3,300.3 L1237,300.3" fill="none" stroke="#1a1a1a" stroke-width="1.75" stroke-linejoin="round"/>
<path d="M1010.4,106.4 L1012.87,106.71 L1015.35,107.04 L1017.83,107.4 L1020.32,107.78 L1022.8,108.17 L1025.29,108.59 L1027.77,109.04 L1030.26,109.5 L1032.75,109.98 L1035.23,110.49 L1037.72,111.01 L1040.2,111.56 L1042.68,112.13 L1045.16,112.72 L1047.64,113.33 L1050.11,113.96 L1052.58,114.61 L1055.05,115.28 L1057.51,115.97 L1059.96,116.69 L1062.41,117.42 L1064.85,118.18 L1067.28,118.97 L1069.69,119.78 L1072.1,120.62 L1074.49,121.5 L1076.86,122.4 L1079.21,123.34 L1081.55,124.32 L1083.86,125.33 L1086.16,126.38 L1088.42,127.48 L1090.67,128.61 L1092.88,129.79 L1095.07,131.02 L1097.22,132.29 L1099.35,133.61 L1101.45,134.97 L1103.52,136.37 L1105.55,137.82 L1107.56,139.32 L1109.53,140.86 L1111.47,142.44 L1113.39,144.07 L1115.27,145.73 L1117.12,147.43 L1118.95,149.17 L1120.75,150.94 L1122.53,152.74 L1124.29,154.56 L1126.02,156.42 L1127.73,158.29 L1129.43,160.19 L1131.1,162.11 L1132.76,164.05 L1134.4,166 L1136.03,167.97 L1137.64,169.95 L1139.23,171.95 L1140.81,173.96 L1142.38,175.98 L1143.93,178.01 L1145.48,180.04 L1147.01,182.08 L1148.54,184.13 L1150.05,186.18 L1151.56,188.23 L1153.05,190.28 L1154.55,192.33 L1156.03,194.37 L1157.51,196.41 L1158.99,198.45 L1160.46,200.47 L1161.93,202.49 L1163.4,204.5 L1134,263" fill="none" stroke="#1a1a1a" stroke-width="1.75" stroke-linejoin="round"/>
<path d="M1163.4,205 L1165.56,206.4 L1167.69,207.84 L1169.78,209.31 L1171.85,210.81 L1173.88,212.34 L1175.88,213.9 L1177.85,215.49 L1179.79,217.1 L1181.7,218.75 L1183.59,220.43 L1185.44,222.13 L1187.26,223.86 L1189.05,225.61 L1190.81,227.39 L1192.55,229.2 L1194.26,231.03 L1195.93,232.88 L1197.59,234.76 L1199.21,236.66 L1200.81,238.58 L1202.38,240.53 L1203.92,242.5 L1205.43,244.48 L1206.92,246.49 L1208.39,248.51 L1209.83,250.56 L1211.24,252.62 L1212.63,254.7 L1213.99,256.8 L1215.33,258.92 L1216.64,261.05 L1217.93,263.2 L1219.2,265.36 L1220.44,267.53 L1221.66,269.72 L1222.86,271.93 L1224.04,274.14 L1225.19,276.37 L1226.32,278.61 L1227.43,280.86 L1228.51,283.13 L1229.58,285.4 L1230.63,287.68 L1231.66,289.97 L1232.67,292.27 L1233.66,294.58 L1234.64,296.89 L1235.6,299.21 L1236.54,301.54 L1237.47,303.88 L1238.38,306.22 L1239.28,308.56 L1240.17,310.92 L1241.03,313.27 L1241.89,315.64 L1242.73,318.01 L1243.55,320.38 L1244.36,322.76 L1245.16,325.14 L1245.95,327.53 L1246.72,329.93 L1247.47,332.32 L1248.22,334.73 L1248.95,337.13 L1249.67,339.55 L1250.38,341.96 L1251.07,344.38 L1251.75,346.8 L1252.42,349.23 L1253.08,351.66 L1253.72,354.1 L1254.36,356.53 L1254.98,358.97 L1255.6,361.42 L1256.2,363.86 L1256.79,366.31 L1257.37,368.77 L1257.94,371.22 L1258.5,373.68 L1259.05,376.14 L1259.59,378.6 L1260.12,381.06 L1260.64,383.53 L1261.15,385.99 L1261.66,388.46 L1262.15,390.93 L1262.64,393.4 L1263.11,395.88 L1263.58,398.35 L1264.04,400.82 L1264.49,403.3 L1264.94,405.78 L1265.38,408.25 L1265.8,410.73 L1266.23,413.21 L1266.64,415.68 L1267.05,418.16 L1267.45,420.64 L1267.85,423.12 L1268.24,425.59 L1268.62,428.07 L1269,430.55 L1269.37,433.02 L1269.73,435.49 L1270.09,437.97 L1270.45,440.44 L1270.8,442.91 L1271.14,445.38 L1271.48,447.85 L1271.82,450.31 L1272.15,452.78 L1272.48,455.24 L1272.8,457.7 L1211.3,436.9 L1210.74,434.49 L1210.16,432.08 L1209.56,429.67 L1208.95,427.26 L1208.31,424.85 L1207.66,422.45 L1206.99,420.05 L1206.3,417.65 L1205.59,415.25 L1204.87,412.85 L1204.12,410.46 L1203.36,408.08 L1202.58,405.69 L1201.78,403.32 L1200.96,400.94 L1200.12,398.58 L1199.26,396.22 L1198.38,393.86 L1197.48,391.51 L1196.57,389.17 L1195.63,386.84 L1194.67,384.51 L1193.7,382.19 L1192.7,379.88 L1191.69,377.58 L1190.65,375.29 L1189.6,373.01 L1188.53,370.73 L1187.43,368.47 L1186.32,366.22 L1185.18,363.98 L1184.03,361.75 L1182.85,359.53 L1181.65,357.33 L1180.44,355.13 L1179.2,352.95 L1177.94,350.79 L1176.66,348.63 L1175.36,346.5 L1174.04,344.37 L1172.7,342.26 L1171.34,340.17 L1169.95,338.09 L1168.55,336.02 L1167.12,333.97 L1165.67,331.94 L1164.2,329.93 L1162.71,327.93 L1161.2,325.95 L1159.67,323.99 L1158.11,322.05 L1156.53,320.13 L1154.93,318.22 L1153.31,316.34 L1151.67,314.47 L1150,312.63 L1148.31,310.8 L1146.6,309" fill="none" stroke="#1a1a1a" stroke-width="1.75" stroke-linejoin="round"/>
<line x1="46.2" y1="571" x2="669.6" y2="571" stroke="#1a1a1a" stroke-width="2"/>
<line x1="46.6" y1="564.2" x2="46.6" y2="570.5" stroke="#1a1a1a" stroke-width="1.1"/>
<line x1="48.4" y1="564.2" x2="48.4" y2="570.5" stroke="#1a1a1a" stroke-width="1.1"/>
<line x1="93.5" y1="564.2" x2="93.5" y2="570.5" stroke="#1a1a1a" stroke-width="1.1"/>
<line x1="147.6" y1="564.2" x2="147.6" y2="570.5" stroke="#1a1a1a" stroke-width="1.1"/>
<line x1="191.4" y1="564.2" x2="191.4" y2="570.5" stroke="#1a1a1a" stroke-width="1.1"/>
<line x1="229.4" y1="564.2" x2="229.4" y2="570.5" stroke="#1a1a1a" stroke-width="1.1"/>
<line x1="261.4" y1="564.2" x2="261.4" y2="570.5" stroke="#1a1a1a" stroke-width="1.1"/>
<line x1="290.5" y1="564.2" x2="290.5" y2="570.5" stroke="#1a1a1a" stroke-width="1.1"/>
<line x1="316.4" y1="564.2" x2="316.4" y2="570.5" stroke="#1a1a1a" stroke-width="1.1"/>
<line x1="359.6" y1="564.2" x2="359.6" y2="570.5" stroke="#1a1a1a" stroke-width="1.1"/>
<line x1="396.5" y1="564.2" x2="396.5" y2="570.5" stroke="#1a1a1a" stroke-width="1.1"/>
<line x1="428.3" y1="564.2" x2="428.3" y2="570.5" stroke="#1a1a1a" stroke-width="1.1"/>
<line x1="456.3" y1="564.2" x2="456.3" y2="570.5" stroke="#1a1a1a" stroke-width="1.1"/>
<line x1="481.4" y1="564.2" x2="481.4" y2="570.5" stroke="#1a1a1a" stroke-width="1.1"/>
<line x1="578.4" y1="564.2" x2="578.4" y2="570.5" stroke="#1a1a1a" stroke-width="1.1"/>
<line x1="737" y1="569.5" x2="1350" y2="569.5" stroke="#1a1a1a" stroke-width="1.3"/>
<line x1="748.4" y1="563" x2="748.4" y2="570.6" stroke="#1a1a1a" stroke-width="1.1"/>
<line x1="769.5" y1="563" x2="769.5" y2="570.6" stroke="#1a1a1a" stroke-width="1.1"/>
<line x1="850.4" y1="563" x2="850.4" y2="570.6" stroke="#1a1a1a" stroke-width="1.1"/>
<line x1="907.7" y1="563" x2="907.7" y2="570.6" stroke="#1a1a1a" stroke-width="1.1"/>
<line x1="952.6" y1="563" x2="952.6" y2="570.6" stroke="#1a1a1a" stroke-width="1.1"/>
<line x1="988.6" y1="563" x2="988.6" y2="570.6" stroke="#1a1a1a" stroke-width="1.1"/>
<line x1="1019.5" y1="563" x2="1019.5" y2="570.6" stroke="#1a1a1a" stroke-width="1.1"/>
<line x1="1045.5" y1="563" x2="1045.5" y2="570.6" stroke="#1a1a1a" stroke-width="1.1"/>
<line x1="1069.4" y1="563" x2="1069.4" y2="570.6" stroke="#1a1a1a" stroke-width="1.1"/>
<line x1="1090.6" y1="563" x2="1090.6" y2="570.6" stroke="#1a1a1a" stroke-width="1.1"/>
<line x1="1126.6" y1="563" x2="1126.6" y2="570.6" stroke="#1a1a1a" stroke-width="1.1"/>
<line x1="1156.6" y1="563" x2="1156.6" y2="570.6" stroke="#1a1a1a" stroke-width="1.1"/>
<line x1="1182.4" y1="563" x2="1182.4" y2="570.6" stroke="#1a1a1a" stroke-width="1.1"/>
<line x1="1205.3" y1="563" x2="1205.3" y2="570.6" stroke="#1a1a1a" stroke-width="1.1"/>
<line x1="1226.7" y1="563" x2="1226.7" y2="570.6" stroke="#1a1a1a" stroke-width="1.1"/>
<line x1="1305.4" y1="563" x2="1305.4" y2="570.6" stroke="#1a1a1a" stroke-width="1.1"/>
<text transform="translate(24.11,30.2) scale(0.9565,1)" font-size="15.43" font-weight="normal" fill="#1e2230">50</text>
<text transform="translate(23.05,74.3) scale(0.9625,1)" font-size="14.71" font-weight="normal" fill="#1e2230">40</text>
<text transform="translate(23.13,130.1) scale(0.9165,1)" font-size="15.57" font-weight="normal" fill="#1e2230">30</text>
<text transform="translate(22.98,210.1) scale(0.9517,1)" font-size="15.14" font-weight="normal" fill="#1e2230">20</text>
<text transform="translate(22.59,347.1) scale(0.9756,1)" font-size="15.14" font-weight="normal" fill="#1e2230">10</text>
<text transform="translate(33.04,487.8) scale(0.9399,1)" font-size="14.78" font-weight="normal" fill="#1e2230">5</text>
<text transform="translate(32.7,526) scale(1.0189,1)" font-size="15.51" font-weight="normal" fill="#1e2230">4</text>
<text transform="translate(21.3,258) scale(0.8927,1)" font-size="18.99" font-weight="bold" fill="#1e2230">H</text>
<text transform="translate(21.51,275.4) scale(1.0008,1)" font-size="13.7" font-weight="normal" fill="#1e2230">m</text>
<text transform="translate(37.23,540.9) scale(1.0004,1)" font-size="15.57" font-weight="normal" fill="#1e2230">10</text>
<text transform="translate(205.65,540.9) scale(0.9570,1)" font-size="15.57" font-weight="normal" fill="#1e2230">20</text>
<text transform="translate(303.28,540.9) scale(0.9976,1)" font-size="15.57" font-weight="normal" fill="#1e2230">30</text>
<text transform="translate(372.04,540.9) scale(0.9341,1)" font-size="15.57" font-weight="normal" fill="#1e2230">40</text>
<text transform="translate(427.11,540.9) scale(0.9415,1)" font-size="15.57" font-weight="normal" fill="#1e2230">50</text>
<text transform="translate(587.81,540.9) scale(0.9364,1)" font-size="15.57" font-weight="normal" fill="#1e2230">100</text>
<text transform="translate(651.69,540.9) scale(0.9488,1)" font-size="15.57" font-weight="normal" fill="#1e2230">150</text>
<text transform="translate(28.26,560.9) scale(0.9432,1)" font-size="16.14" font-weight="normal" fill="#1e2230">100</text>
<text transform="translate(174.51,560.9) scale(0.9185,1)" font-size="16.14" font-weight="normal" fill="#1e2230">300</text>
<text transform="translate(244.22,560.9) scale(0.9369,1)" font-size="16.14" font-weight="normal" fill="#1e2230">400</text>
<text transform="translate(298.3,560.9) scale(0.9302,1)" font-size="16.14" font-weight="normal" fill="#1e2230">500</text>
<text transform="translate(461.77,560.9) scale(0.9336,1)" font-size="16.14" font-weight="normal" fill="#1e2230">1000</text>
<text transform="translate(557.98,560.9) scale(0.9248,1)" font-size="16.14" font-weight="normal" fill="#1e2230">1500</text>
<text transform="translate(92.11,551.5) scale(0.9786,1)" font-size="20.14" font-weight="bold" fill="#1e2230">Q</text>
<text transform="translate(115.43,543) scale(1.0316,1)" font-size="15.93" font-weight="normal" fill="#1e2230">m</text>
<text transform="translate(130.9,536.7) scale(0.8434,1)" font-size="11.86" font-weight="normal" fill="#1e2230">3</text>
<text transform="translate(134.5,543) scale(0.9416,1)" font-size="16" font-weight="normal" fill="#1e2230">/h</text>
<text transform="translate(115.88,559.8) scale(0.9848,1)" font-size="16" font-weight="normal" fill="#1e2230">l/min</text>
<text transform="translate(710.25,24.2) scale(0.9268,1)" font-size="15.07" font-weight="normal" fill="#1e2230">15</text>
<text transform="translate(710.24,94.6) scale(0.9292,1)" font-size="15.14" font-weight="normal" fill="#1e2230">10</text>
<text transform="translate(717.23,225.1) scale(0.9498,1)" font-size="15.07" font-weight="normal" fill="#1e2230">5</text>
<text transform="translate(717.06,267.9) scale(0.8689,1)" font-size="15.65" font-weight="normal" fill="#1e2230">4</text>
<text transform="translate(717.26,324) scale(0.8587,1)" font-size="15.86" font-weight="normal" fill="#1e2230">3</text>
<text transform="translate(717.05,397.5) scale(0.9510,1)" font-size="15.71" font-weight="normal" fill="#1e2230">2</text>
<text transform="translate(718.18,524.8) scale(0.6207,1)" font-size="15.36" font-weight="normal" fill="#1e2230">1</text>
<text transform="translate(710.14,147.9) scale(0.9746,1)" font-size="18.26" font-weight="bold" fill="#1e2230">H</text>
<text transform="translate(709.92,168.4) scale(1.0946,1)" font-size="13.7" font-weight="normal" fill="#1e2230">m</text>
<text transform="translate(859.25,540.6) scale(0.9966,1)" font-size="15.43" font-weight="normal" fill="#1e2230">10</text>
<text transform="translate(999.12,540.6) scale(1.0103,1)" font-size="15.43" font-weight="normal" fill="#1e2230">20</text>
<text transform="translate(1078.43,540.6) scale(0.9187,1)" font-size="15.43" font-weight="normal" fill="#1e2230">30</text>
<text transform="translate(1134.04,540.6) scale(0.9428,1)" font-size="15.43" font-weight="normal" fill="#1e2230">40</text>
<text transform="translate(1181.29,540.6) scale(0.9942,1)" font-size="15.43" font-weight="normal" fill="#1e2230">50</text>
<text transform="translate(1311.13,540.6) scale(0.9283,1)" font-size="15.43" font-weight="normal" fill="#1e2230">100</text>
<text transform="translate(751.44,559.6) scale(0.9386,1)" font-size="16.43" font-weight="normal" fill="#1e2230">100</text>
<text transform="translate(888.01,559.6) scale(0.9623,1)" font-size="16.43" font-weight="normal" fill="#1e2230">200</text>
<text transform="translate(969.06,559.6) scale(0.9678,1)" font-size="16.43" font-weight="normal" fill="#1e2230">300</text>
<text transform="translate(1027.02,559.6) scale(0.9207,1)" font-size="16.43" font-weight="normal" fill="#1e2230">400</text>
<text transform="translate(1071.2,559.6) scale(0.9178,1)" font-size="16.43" font-weight="normal" fill="#1e2230">500</text>
<text transform="translate(1203.36,559.6) scale(0.9289,1)" font-size="16.43" font-weight="normal" fill="#1e2230">1000</text>
<text transform="translate(1281.14,559.6) scale(0.9376,1)" font-size="16.43" font-weight="normal" fill="#1e2230">1500</text>
<text transform="translate(787.2,549.5) scale(0.9380,1)" font-size="18.71" font-weight="bold" fill="#1e2230">Q</text>
<text transform="translate(811.85,543) scale(0.9960,1)" font-size="14.63" font-weight="normal" fill="#1e2230">m</text>
<text transform="translate(822.88,537.1) scale(0.9478,1)" font-size="11" font-weight="normal" fill="#1e2230">3</text>
<text transform="translate(828.7,543) scale(0.9758,1)" font-size="15.17" font-weight="normal" fill="#1e2230">/h</text>
<text transform="translate(811.94,558.6) scale(1.0281,1)" font-size="14.34" font-weight="normal" fill="#1e2230">l/min</text>
<text transform="translate(421.02,53.1) scale(0.9258,1)" font-size="31.3" font-weight="bold" fill="#1e2230">NRD</text>
<text transform="translate(491.68,53.1) scale(0.9299,1)" font-size="20.14" font-weight="normal" fill="#1e2230">n ≈ 2900 rpm</text>
<text transform="translate(1112.82,60.1) scale(0.9531,1)" font-size="30.29" font-weight="bold" fill="#1e2230">NRD4</text>
<text transform="translate(1203.37,60.1) scale(0.9659,1)" font-size="19.57" font-weight="normal" fill="#1e2230">n ≈ 1450 rpm</text>
<text transform="translate(226.95,165) scale(0.8792,1)" font-size="14.86" font-weight="normal" fill="#1e2230">NRD 50/160*</text>
<text transform="translate(222.76,265) scale(0.8291,1)" font-size="15.71" font-weight="normal" fill="#1e2230">NRD 50/125*</text>
<text transform="translate(388.56,165.2) scale(0.8686,1)" font-size="15" font-weight="normal" fill="#1e2230">NRD 65/160*</text>
<text transform="translate(557.97,168.9) scale(0.8380,1)" font-size="15.43" font-weight="normal" fill="#1e2230">NRD 65/160**</text>
<text transform="translate(416.06,314.7) scale(0.8674,1)" font-size="15" font-weight="normal" fill="#1e2230">NRD 65/125*</text>
<text transform="translate(569.39,304) scale(0.7770,1)" font-size="16.29" font-weight="normal" fill="#1e2230">NRD 65/125**</text>
<text transform="translate(523.18,257.8) scale(0.8328,1)" font-size="15.36" font-weight="normal" fill="#1e2230">NRD</text>
<text transform="translate(523.28,277.8) scale(0.8589,1)" font-size="15" font-weight="normal" fill="#1e2230">50/160**</text>
<text transform="translate(523.25,366.7) scale(0.6956,1)" font-size="15.36" font-weight="normal" fill="#1e2230">NRD</text>
<text transform="translate(523.37,381.8) scale(0.7128,1)" font-size="15.14" font-weight="normal" fill="#1e2230">50/125**</text>
<text transform="translate(832.97,150) scale(0.7523,1)" font-size="15.43" font-weight="normal" fill="#1e2230">NRD4 50/160*</text>
<text transform="translate(942.98,128.2) scale(0.7613,1)" font-size="15.14" font-weight="normal" fill="#1e2230">NRD4 65/160*</text>
<text transform="translate(1167.43,178.7) scale(0.8412,1)" font-size="14.35" font-weight="normal" fill="#1e2230">NRD4</text>
<text transform="translate(1168.01,191.6) scale(0.7549,1)" font-size="15.71" font-weight="normal" fill="#1e2230">65</text>
<text transform="translate(1187.9,191.6) scale(0.7397,1)" font-size="15.14" font-weight="normal" fill="#1e2230">/160**</text>
<text transform="translate(1115.36,197.5) scale(0.7657,1)" font-size="15.36" font-weight="normal" fill="#1e2230">NRD4</text>
<text transform="translate(1115.12,210.4) scale(0.7862,1)" font-size="15.14" font-weight="normal" fill="#1e2230">50/160**</text>
<text transform="translate(1073.54,341.4) scale(0.7781,1)" font-size="15.36" font-weight="normal" fill="#1e2230">NRD4</text>
<text transform="translate(1073.92,358) scale(0.7059,1)" font-size="16.43" font-weight="normal" fill="#1e2230">65/125*</text>
<text transform="translate(1172.02,290.7) scale(0.7561,1)" font-size="14.49" font-weight="normal" fill="#1e2230">NRD4</text>
<text transform="translate(1171.56,307.8) scale(0.6997,1)" font-size="15.43" font-weight="normal" fill="#1e2230">65/125**</text>
</svg>
</body></html>
